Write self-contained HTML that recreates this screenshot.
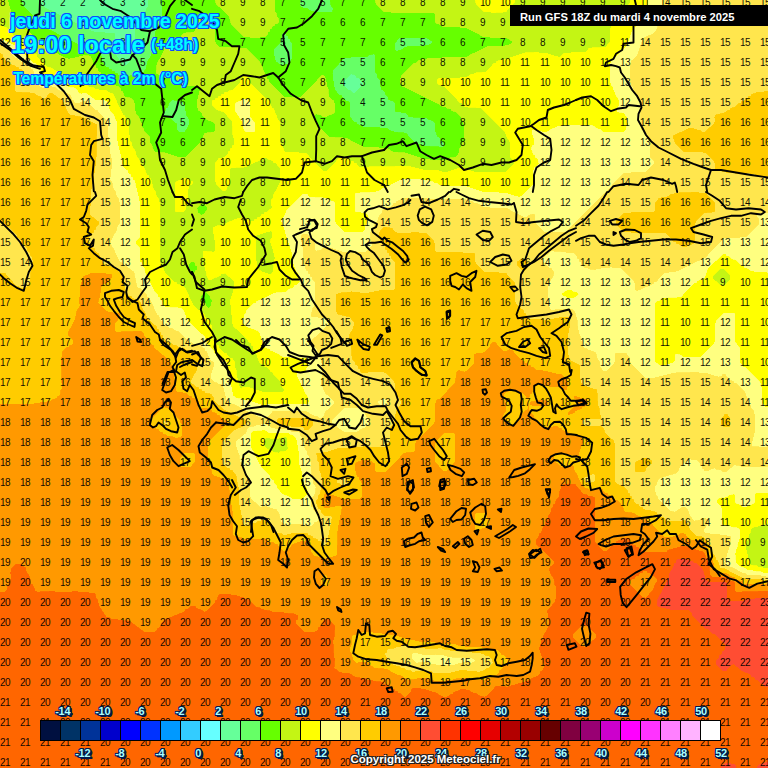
<!DOCTYPE html>
<html><head><meta charset="utf-8"><title>Meteociel GFS</title>
<style>
html,body{margin:0;padding:0;background:#ff9900;}
body{width:768px;height:768px;position:relative;overflow:hidden;font-family:"Liberation Sans",sans-serif;}
svg{position:absolute;left:0;top:0;}
.r{position:absolute;left:0px;letter-spacing:-0.5px;width:800px;height:12px;line-height:12px;font-size:10px;color:rgba(0,0,0,0.95);white-space:nowrap;}
.r i{display:inline-block;width:20px;text-align:left;font-style:normal;}
#coast path{fill:none;stroke:#000;stroke-width:1.9;stroke-linejoin:round;stroke-linecap:round;}
.t{position:absolute;font-weight:bold;color:#00ffff;white-space:nowrap;
 text-shadow:-1px -1px 0 #0a50ff,1px -1px 0 #0a50ff,-1px 1px 0 #0a50ff,1px 1px 0 #0a50ff,0 -1px 0 #0a50ff,0 1px 0 #0a50ff,-1px 0 0 #0a50ff,1px 0 0 #0a50ff;}
.lg{position:absolute;font-weight:bold;font-size:11px;line-height:12px;color:#aaffff;white-space:nowrap;letter-spacing:-0.3px;
 text-shadow:-1px -1px 0 #00184a,1px -1px 0 #00184a,-1px 1px 0 #00184a,1px 1px 0 #00184a,0 -1px 0 #00184a,0 1px 0 #00184a,-1px 0 0 #00184a,1px 0 0 #00184a,2px 2px 0 #00184a,1px 2px 0 #00184a,2px 1px 0 #00184a;}
#run{position:absolute;left:510px;top:5px;width:258px;height:21px;background:#000;color:#fff;font-weight:bold;font-size:11.2px;line-height:24px;}
#run span{position:absolute;left:10px;top:0;white-space:nowrap;}
#cp{position:absolute;left:350.5px;top:752.5px;font-weight:bold;font-size:11.5px;color:#fff;white-space:nowrap;
 text-shadow:-1px -1px 0 #222,1px -1px 0 #222,-1px 1px 0 #222,1px 1px 0 #222,0 1px 0 #222,1px 0 0 #222;}
</style></head><body>
<svg id="field" width="768" height="768" viewBox="0 0 768 768" shape-rendering="crispEdges">
<rect width="768" height="768" fill="#66ff99"/>
<path fill="#66ff66" stroke="#66ff66" stroke-width="0.8" fill-rule="evenodd" d="M0.2,0.2 0.2,767.8 767.8,767.8 767.8,0.2 148.2,0.2 148.2,6.8 147.2,7.2 145.2,12.8 136.2,21.2 136.2,22.8 135.2,23.2 135.2,41.8 130.2,48.2 130.2,61.8 126.8,65.2 123.2,65.2 118.8,60.8 118.8,59.2 115.8,54.8 115.8,52.2 114.8,51.8 114.8,34.2 113.8,33.2 105.2,33.2 104.8,32.2 94.2,32.2 93.8,31.2 91.2,31.2 90.8,30.2 89.2,30.2 88.8,29.2 87.2,29.2 86.8,28.2 85.2,28.2 84.8,27.2 83.2,27.2 82.8,26.2 81.2,26.2 80.8,25.2 79.2,25.2 78.8,24.2 77.2,24.2 76.8,23.2 75.2,23.2 74.8,22.2 73.2,22.2 72.8,21.2 71.2,21.2 70.8,20.2 69.2,20.2 68.8,19.2 67.2,19.2 66.8,18.2 65.2,18.2 64.8,17.2 63.2,17.2 62.8,16.2 61.2,16.2 60.8,15.2 59.2,15.2 58.8,14.2 57.2,14.2 56.8,13.2 45.2,8.2 40.8,3.8 39.8,0.2zM351.2,73.8 354.8,74.8 357.2,77.8 358.8,77.8 363.2,83.2 362.2,85.8 354.8,93.2 353.2,93.2 349.8,90.2 348.2,90.2 342.8,84.8 342.8,82.2z"/>
<path fill="#66ff00" stroke="#66ff00" stroke-width="0.8" fill-rule="evenodd" d="M0.2,0.2 0.2,767.8 767.8,767.8 767.8,0.2 330.2,0.2 331.2,5.8 333.2,8.2 332.8,12.2 314.2,12.2 313.8,11.2 311.2,11.2 306.8,8.2 303.2,8.2 302.8,7.2 301.2,7.2 299.8,5.8 299.8,0.2 162.2,0.2 162.2,17.8 161.2,18.2 161.2,20.8 158.2,25.2 158.2,27.8 155.2,32.2 155.2,43.8 154.2,44.2 154.2,46.8 153.2,47.2 151.2,55.8 148.2,60.2 146.2,68.8 143.8,72.2 141.2,72.2 140.8,73.2 135.2,73.2 134.8,74.2 129.2,76.2 127.8,78.2 123.2,78.2 122.8,77.2 121.2,77.2 119.8,75.2 118.2,75.2 116.8,73.2 115.2,73.2 113.8,71.2 112.2,71.2 110.8,69.2 109.2,69.2 107.8,67.2 106.2,67.2 101.8,61.8 100.8,54.2 99.8,53.8 99.8,51.2 97.8,48.2 91.2,47.2 90.8,46.2 87.2,46.2 86.8,45.2 79.2,45.2 78.8,44.2 77.2,44.2 76.8,43.2 75.2,43.2 74.8,42.2 73.2,42.2 72.8,41.2 71.2,41.2 70.8,40.2 69.2,40.2 68.8,39.2 67.2,39.2 66.8,38.2 65.2,38.2 64.8,37.2 63.2,37.2 62.8,36.2 61.2,36.2 60.8,35.2 59.2,35.2 58.8,34.2 57.2,34.2 56.8,33.2 45.2,28.2 22.8,5.8 22.8,4.2 21.8,3.8 21.8,0.2zM172.2,99.8 180.8,100.8 181.2,101.8 182.8,101.8 185.2,105.2 185.2,110.8 186.2,111.2 186.2,114.8 189.2,119.2 189.2,124.8 188.2,125.2 188.2,126.8 184.8,132.2 178.2,132.2 177.8,130.2 176.8,129.8 176.8,124.2 169.8,118.2 163.8,115.8 163.8,112.2 164.8,111.8 165.8,108.2 167.8,106.8 168.8,103.2zM332.8,70.2 344.2,57.8 350.8,57.8 351.2,56.8 366.8,56.8 369.2,54.8 373.8,53.8 375.2,55.2 375.2,71.8 377.2,74.2 377.2,76.8 380.2,80.2 381.2,88.8 385.2,92.2 385.2,93.8 388.2,97.2 388.2,98.8 391.2,100.8 392.8,100.8 395.2,103.2 395.2,110.8 396.2,111.8 400.8,111.8 401.2,112.8 405.8,112.8 409.2,116.8 426.8,117.8 427.2,118.8 432.8,120.8 435.2,123.2 435.2,131.8 436.2,132.2 437.2,135.8 440.2,138.2 440.2,139.8 444.2,143.2 445.2,145.8 443.2,146.2 442.8,147.2 424.2,146.2 423.8,145.2 421.2,145.2 420.8,144.2 418.2,144.2 417.8,143.2 414.2,142.2 405.8,133.2 394.2,132.2 393.8,131.2 391.2,131.2 386.8,128.2 380.2,128.2 379.8,127.2 363.2,127.2 362.8,126.2 357.2,124.2 355.8,122.2 354.2,122.2 349.8,116.8 349.8,103.2 347.8,101.2 346.2,101.2 340.8,95.2 339.2,95.2 334.8,89.8 334.8,87.2 333.8,86.8 333.8,81.2 332.8,80.8 332.8,74.2 331.8,73.8 332.8,72.8zM394.8,49.8 394.8,43.2 399.2,37.8 426.8,37.8 432.2,41.2 432.2,42.8 430.8,44.2 429.2,44.2 428.8,45.2 425.2,45.2 424.8,46.2 407.2,46.2 406.8,47.2 405.2,47.2 400.8,50.2 398.2,50.2 397.8,51.2 396.2,51.2zM285.8,32.8 286.2,34.8 288.2,36.2 288.2,37.8 290.2,39.2 290.2,40.8 292.2,43.2 292.2,58.8 291.2,59.2 290.8,62.2 289.2,62.2 287.8,64.2 285.2,64.2 282.2,66.2 275.8,61.8 275.8,60.2 274.8,59.8 274.8,56.2 273.8,55.8 273.8,49.2 279.8,42.8 281.8,34.2 283.2,32.8z"/>
<path fill="#c4f514" stroke="#c4f514" stroke-width="0.8" fill-rule="evenodd" d="M215.2,0.2 216.2,3.8 229.2,16.2 231.2,23.8 244.2,36.8 249.8,36.8 250.2,37.8 259.8,37.8 260.2,36.8 264.8,36.8 267.8,33.8 267.8,32.2 269.8,30.8 269.8,29.2 271.8,27.8 271.8,26.2 273.8,25.8 275.2,23.8 276.8,23.8 278.8,21.8 277.8,17.2 276.8,16.8 275.8,12.2 274.8,11.8 274.8,0.2zM0.2,0.2 0.2,767.8 767.8,767.8 767.8,0.2 375.2,0.2 376.2,3.8 384.2,11.8 390.8,11.8 391.2,12.8 433.8,12.8 435.2,14.2 435.2,21.8 437.2,23.8 438.8,23.8 443.2,26.8 459.8,26.8 460.2,27.8 466.8,27.8 467.2,28.8 468.8,28.8 469.2,29.8 470.8,29.8 471.2,30.8 472.8,30.8 473.2,31.8 474.8,31.8 475.2,32.8 476.8,32.8 483.2,36.8 489.8,36.8 490.2,37.8 506.8,37.8 512.2,41.2 512.2,42.8 510.8,44.2 509.2,44.2 508.8,45.2 505.2,45.2 504.8,46.2 487.2,46.2 486.8,47.2 485.2,47.2 484.8,48.2 483.2,48.2 482.8,49.2 481.2,49.2 480.8,50.2 479.2,50.2 478.8,51.2 477.2,51.2 476.8,52.2 475.2,52.2 474.8,53.2 473.2,53.2 466.8,57.2 442.2,57.2 441.8,58.2 427.2,58.2 426.8,59.2 422.2,59.2 421.8,60.2 419.2,60.2 415.8,63.2 414.2,63.2 401.2,76.2 401.2,77.8 400.2,78.2 400.2,82.8 403.2,86.8 404.8,86.8 405.2,87.8 406.8,87.8 407.2,88.8 408.8,88.8 409.2,89.8 410.8,89.8 411.2,90.8 412.8,90.8 413.2,91.8 414.8,91.8 415.2,92.8 416.8,92.8 417.2,93.8 418.8,93.8 419.2,94.8 420.8,94.8 421.2,95.8 422.8,95.8 423.2,96.8 424.8,96.8 425.2,97.8 426.8,97.8 427.2,98.8 428.8,98.8 429.2,99.8 430.8,99.8 431.2,100.8 432.8,100.8 433.2,101.8 434.8,101.8 435.2,102.8 436.8,102.8 443.2,106.8 445.8,106.8 446.2,107.8 450.8,108.8 452.2,110.8 455.8,111.8 461.2,117.2 461.2,119.8 464.2,124.2 464.2,140.8 461.2,144.2 461.2,146.8 459.2,149.2 459.2,152.8 458.2,153.2 458.2,154.8 455.8,157.2 449.2,158.2 448.8,159.2 445.2,159.2 444.8,160.2 430.2,160.2 429.8,159.2 423.2,159.2 422.8,158.2 420.2,158.2 419.8,157.2 417.2,157.2 416.8,156.2 414.2,156.2 413.8,155.2 411.2,155.2 410.8,154.2 408.2,154.2 407.8,153.2 393.2,152.2 386.8,148.2 379.2,148.2 378.8,147.2 363.2,147.2 362.8,146.2 361.2,146.2 360.8,145.2 359.2,145.2 358.8,144.2 357.2,144.2 356.8,143.2 355.2,143.2 354.8,142.2 353.2,142.2 346.8,138.2 329.2,137.2 315.8,123.8 315.8,122.2 314.8,121.8 314.8,115.2 316.2,113.8 320.8,114.8 323.2,116.8 326.8,116.8 327.2,115.8 332.8,113.8 334.8,111.8 334.8,103.2 333.8,102.8 333.8,101.2 328.8,96.8 327.8,87.2 326.8,86.8 326.8,82.2 325.8,81.8 325.8,78.2 324.8,77.8 324.8,76.2 322.2,75.2 300.8,97.2 292.2,97.2 291.8,98.2 290.8,97.2 284.2,97.2 268.8,81.8 268.8,80.2 266.8,78.8 265.8,74.2 264.8,73.8 259.8,62.2 245.8,48.2 240.2,48.2 239.8,47.2 219.2,47.2 215.8,43.8 215.8,42.2 214.8,41.8 214.8,23.2 206.8,14.2 203.2,14.2 196.2,21.2 196.2,22.8 195.2,23.2 195.2,30.8 193.8,32.2 184.2,33.2 170.8,47.2 168.2,47.2 167.8,48.2 165.2,48.2 164.2,49.2 164.2,50.8 163.2,51.2 163.2,52.8 162.2,53.2 162.2,54.8 161.2,55.2 161.2,56.8 157.2,63.2 156.2,72.8 159.2,74.8 160.8,74.8 161.2,75.8 162.8,75.8 163.2,76.8 170.8,77.8 174.2,81.8 175.8,81.8 182.2,85.8 197.8,85.8 198.2,86.8 199.8,86.8 200.2,90.8 199.2,91.2 199.2,94.8 198.2,95.2 198.2,98.8 197.2,99.2 197.2,107.8 198.2,108.2 198.2,109.8 202.2,113.2 202.2,114.8 207.2,119.8 212.8,121.8 215.2,124.2 215.2,130.8 213.8,132.2 205.2,133.2 203.2,136.2 203.2,137.8 202.2,138.2 202.2,139.8 200.2,141.2 200.2,142.8 185.8,157.2 177.2,157.2 176.8,156.2 174.2,156.2 173.8,155.2 171.2,155.2 170.8,154.2 168.2,154.2 167.8,153.2 155.2,152.2 153.8,150.8 150.8,143.2 149.8,142.8 149.8,137.2 143.8,130.8 143.8,129.2 141.8,126.8 141.8,123.2 140.8,122.8 138.8,117.2 135.8,113.8 135.8,111.2 134.8,110.8 134.8,103.2 133.8,102.8 133.8,101.2 130.8,98.2 125.2,97.2 123.8,95.8 122.8,92.2 120.8,90.8 120.8,89.2 117.8,86.2 116.2,86.2 115.8,85.2 110.2,83.2 108.8,81.2 107.2,81.2 100.8,74.8 100.8,73.2 97.8,70.8 97.8,69.2 95.8,67.8 95.8,66.2 92.8,63.8 91.8,59.2 89.8,56.2 83.2,55.2 82.8,56.2 79.2,56.2 78.8,57.2 75.2,57.2 74.8,58.2 70.2,58.2 69.8,59.2 68.2,59.2 67.8,58.2 65.2,58.2 64.8,57.2 63.2,57.2 62.8,56.2 61.2,56.2 60.8,55.2 59.2,55.2 58.8,54.2 47.2,49.2 45.8,47.2 44.2,47.2 43.8,45.2 41.8,43.2 40.2,43.2 12.8,15.8 12.8,14.2 10.8,11.8 10.8,9.2 9.8,8.8 9.8,6.2 8.8,5.8 8.8,2.2 7.8,1.8 7.8,0.2zM204.2,291.8 205.8,291.8 210.2,296.2 210.2,297.8 212.2,300.2 212.2,301.8 211.2,302.2 211.2,305.8 210.2,306.2 209.8,308.2 208.2,308.2 205.8,305.8 205.8,304.2 200.8,299.8 200.8,296.2zM190.2,261.8 193.8,261.8 195.2,263.2 195.2,264.8 197.2,266.2 197.2,269.8 195.2,271.2 194.8,273.2 192.2,273.2 188.8,267.8 188.8,264.2 189.8,263.8zM203.8,203.8 207.2,207.2 207.2,209.8 203.8,214.2 201.2,215.2 197.8,212.8 196.8,208.2 201.2,203.8z"/>
<path fill="#ffff00" stroke="#ffff00" stroke-width="0.8" fill-rule="evenodd" d="M186.8,178.2 183.2,178.2 182.8,179.2 177.2,181.2 175.2,183.2 175.2,210.8 176.2,211.8 183.8,211.8 185.8,208.8 185.8,206.2 187.8,203.8 187.8,189.2 188.8,188.8 188.8,186.2 190.2,184.8 191.8,184.8 192.8,182.2zM767.8,0.2 630.2,0.2 630.2,2.8 629.2,3.2 625.2,12.8 611.2,26.2 611.2,27.8 610.2,28.2 610.2,41.8 605.8,47.2 589.2,48.2 585.8,52.2 571.2,52.2 570.8,53.2 564.2,53.2 559.8,57.2 558.2,57.2 557.8,56.2 554.2,56.2 553.8,55.2 551.2,55.2 550.8,54.2 548.2,54.2 547.8,53.2 539.2,53.2 538.8,52.2 522.2,53.2 521.8,54.2 519.2,54.2 518.8,55.2 516.2,55.2 515.8,56.2 513.2,56.2 512.8,57.2 510.2,57.2 509.8,58.2 507.2,58.2 506.8,59.2 502.2,59.2 501.8,60.2 497.2,61.2 495.8,63.2 494.2,63.2 485.8,72.2 474.2,73.2 473.8,74.2 471.2,74.2 466.8,77.2 460.2,77.2 459.8,78.2 439.2,78.2 437.2,80.2 437.2,82.8 439.2,84.8 444.8,86.8 460.2,102.8 461.8,102.8 465.2,106.8 480.8,107.8 505.2,132.2 505.2,133.8 506.2,134.2 506.2,135.8 510.2,142.2 510.2,156.8 514.2,161.2 514.2,163.8 505.8,172.2 474.2,172.2 473.8,171.2 471.2,171.2 466.8,168.2 457.2,168.2 456.8,169.2 454.2,169.2 453.8,170.2 451.2,170.2 450.8,171.2 448.2,171.2 447.8,172.2 442.2,172.2 441.8,171.2 439.2,171.2 438.8,170.2 423.2,170.2 422.8,169.2 419.2,169.2 418.8,168.2 415.2,168.2 414.8,167.2 411.2,167.2 410.8,166.2 359.2,167.2 355.8,163.2 354.2,163.2 352.8,161.2 351.2,161.2 346.8,158.2 339.2,158.2 326.8,171.2 323.2,171.2 305.8,153.2 299.2,153.2 298.8,152.2 285.2,152.2 283.8,150.8 283.8,149.2 279.8,142.8 279.8,122.2 276.8,117.8 276.8,115.2 275.8,114.8 273.8,109.2 271.8,107.8 269.8,102.2 249.8,82.8 249.8,81.2 247.8,79.8 247.8,78.2 245.8,75.2 243.2,76.2 243.2,77.8 240.2,81.2 240.2,82.8 232.8,90.2 228.2,91.2 227.8,92.2 225.2,92.2 223.8,94.2 222.2,94.2 220.8,96.2 219.2,96.2 217.8,98.2 216.2,98.2 214.8,100.2 213.2,100.2 212.2,101.2 212.2,104.8 217.2,109.8 223.8,111.8 232.2,121.2 233.2,137.8 234.2,138.2 234.2,144.8 232.2,146.2 232.2,147.8 230.2,149.2 230.2,150.8 228.2,152.2 228.2,153.8 224.8,157.2 223.2,157.2 222.8,158.2 219.2,158.2 215.2,163.2 215.2,181.8 216.2,182.2 216.2,183.8 223.2,190.8 224.8,190.8 226.8,188.8 226.8,187.2 229.8,182.8 229.8,169.2 231.2,167.8 246.8,166.8 247.2,165.8 248.8,165.8 249.2,164.8 250.8,164.8 251.2,163.8 252.8,163.8 253.2,162.8 254.8,162.8 255.2,161.8 256.8,161.8 263.2,157.8 266.8,157.8 267.2,158.8 272.8,160.8 274.2,162.8 275.8,162.8 280.2,168.2 280.2,182.8 279.2,183.2 279.2,184.8 278.2,185.2 278.2,186.8 277.2,187.2 277.2,188.8 273.2,195.2 273.2,197.8 271.2,200.2 271.2,205.8 272.2,206.2 272.2,207.8 266.8,212.2 265.2,212.2 263.8,214.2 262.2,214.2 259.8,217.2 258.2,217.2 256.8,219.2 255.2,219.2 253.8,221.2 250.2,221.2 249.8,220.2 245.2,219.2 244.8,218.2 237.2,218.2 236.8,219.2 234.2,219.2 233.8,220.2 226.2,223.2 224.8,225.2 215.2,226.2 214.8,227.2 213.2,227.2 213.2,233.8 214.2,234.2 214.2,239.8 215.2,240.2 215.2,250.8 213.8,252.2 203.2,251.2 203.2,258.8 204.2,259.2 204.2,266.8 205.2,267.2 205.2,270.8 206.2,271.2 207.2,276.8 209.2,279.8 211.8,279.8 212.2,278.8 219.8,275.8 221.2,273.8 223.8,273.8 224.8,272.8 234.2,281.2 234.2,288.8 233.2,289.2 233.2,292.8 232.2,293.2 232.2,295.8 231.2,296.2 231.2,298.8 230.2,299.2 230.2,304.8 231.2,305.2 231.2,314.8 232.2,315.2 232.2,323.8 233.2,324.2 233.2,325.8 248.2,340.2 248.2,341.8 251.2,343.2 251.2,344.8 253.2,346.2 253.2,348.8 257.2,355.2 257.2,357.8 258.2,358.2 259.2,361.8 261.2,363.8 262.8,363.8 265.2,366.8 266.8,366.8 271.2,371.8 272.8,371.8 273.2,373.8 281.2,382.2 282.2,386.8 284.2,389.2 284.2,390.8 282.8,392.2 262.2,392.2 261.8,391.2 259.2,391.2 258.8,390.2 256.2,390.2 255.8,389.2 253.2,389.2 252.8,388.2 250.2,388.2 249.8,387.2 243.2,387.2 241.8,389.2 239.8,387.8 239.8,386.2 238.8,385.8 238.8,382.2 237.8,381.8 237.8,378.2 236.8,377.8 235.8,368.2 234.8,367.8 234.8,362.2 231.8,358.2 230.2,358.2 225.8,353.2 224.2,353.2 218.8,347.8 218.8,346.2 213.8,341.8 213.8,339.2 212.8,338.8 212.8,332.2 211.8,331.8 211.8,325.2 210.8,324.8 209.8,321.2 204.8,316.8 204.8,315.2 199.8,310.2 198.2,310.2 192.8,304.8 192.8,303.2 191.8,302.8 191.8,301.2 190.8,300.8 185.8,289.2 182.8,286.2 181.2,286.2 180.8,285.2 177.2,284.2 175.8,282.2 174.2,282.2 164.8,272.8 164.8,271.2 163.8,270.8 163.8,269.2 159.8,262.8 159.8,202.2 158.8,201.8 158.8,199.2 155.8,194.8 155.8,192.2 152.8,187.8 150.8,179.2 148.8,177.8 148.8,176.2 146.8,174.8 143.8,167.2 139.8,162.8 139.8,161.2 135.8,154.8 135.8,152.2 131.8,145.8 131.8,143.2 129.8,140.8 129.8,135.2 128.8,134.8 128.8,125.2 127.8,124.8 127.8,121.2 125.8,119.8 124.8,116.2 122.8,114.8 122.8,113.2 121.8,112.8 121.8,111.2 120.8,110.8 120.8,109.2 119.8,108.8 119.8,107.2 118.8,106.8 113.8,95.2 111.8,93.2 110.2,93.2 105.8,90.2 99.2,90.2 98.8,89.2 95.2,89.2 94.8,88.2 89.2,87.2 86.8,85.2 84.2,85.2 83.8,84.2 82.2,84.2 81.8,83.2 80.2,83.2 79.8,82.2 68.2,77.2 66.8,75.2 65.2,75.2 58.8,71.2 56.2,71.2 51.8,68.2 47.2,67.2 36.8,56.8 36.8,55.2 31.8,50.8 30.8,48.2 29.2,48.2 27.8,46.2 26.2,46.2 24.8,44.2 23.2,44.2 20.8,41.2 19.2,41.2 5.8,27.2 4.2,27.2 3.8,26.2 0.2,26.2 0.2,767.8 767.8,767.8 767.8,568.2 763.2,568.2 762.8,567.2 758.2,567.2 757.8,566.2 751.2,565.2 749.8,563.8 749.8,561.2 748.8,560.8 748.8,558.2 747.8,557.8 747.8,554.2 746.8,553.8 746.8,550.2 745.8,549.8 745.8,545.2 746.8,544.8 746.8,541.2 747.8,540.8 748.8,534.2 749.8,533.8 750.8,529.2 754.2,526.8 757.8,526.8 758.2,525.8 760.8,525.8 761.2,524.8 767.8,523.8zM288.2,448.8 285.8,451.2 279.2,452.2 278.8,453.2 273.2,452.2 272.8,451.2 267.2,449.2 264.8,446.8 264.8,445.2 263.8,444.8 263.8,440.2 264.8,439.8 265.2,437.8 269.8,437.8 270.2,438.8 278.8,438.8 279.2,437.8 285.8,436.8 287.2,438.2zM720.2,268.8 723.8,268.8 730.2,275.2 730.2,279.8 724.8,285.2 720.2,285.2 712.8,278.8 712.8,276.2zM270.2,230.8 272.2,231.2 272.2,237.8 271.2,238.2 270.2,242.8 271.2,243.2 271.2,245.8 272.2,246.2 272.2,248.8 273.2,249.2 273.2,252.8 274.2,253.2 274.2,256.8 275.2,257.2 275.2,258.8 274.2,259.2 273.2,271.8 272.2,272.2 271.8,274.2 268.2,274.2 267.8,273.2 265.2,273.2 264.8,272.2 262.2,272.2 261.8,271.2 258.2,270.2 257.8,268.2 256.8,267.8 256.8,261.2 255.8,260.8 255.8,236.2 257.2,234.8 259.8,234.8 260.2,233.8 262.8,233.8 263.2,232.8 265.8,232.8 266.2,231.8 269.8,231.8zM475.2,0.2 476.2,3.8 484.2,11.8 490.8,11.8 491.2,12.8 505.8,11.8 514.8,1.8 514.8,0.2z"/>
<path fill="#ffff80" stroke="#ffff80" stroke-width="0.8" fill-rule="evenodd" d="M243.2,99.2 242.8,100.2 237.2,102.2 235.2,104.2 235.2,110.8 242.2,121.2 244.2,129.8 246.2,131.8 253.8,131.8 254.8,130.8 254.8,123.2 249.8,116.8 249.8,103.2 246.8,99.2zM767.8,0.2 648.2,0.2 648.2,6.8 647.2,7.2 647.2,8.8 646.2,9.2 646.2,10.8 645.2,11.2 640.2,22.8 633.2,29.2 627.2,45.8 611.2,61.2 611.2,62.8 610.2,63.2 610.2,82.8 611.2,83.2 611.2,84.8 613.2,87.2 613.2,89.8 614.2,90.2 614.2,91.8 615.2,92.2 615.2,93.8 619.2,100.2 619.2,105.8 617.2,108.2 617.2,111.8 623.8,112.8 627.2,117.2 628.2,124.8 627.2,125.2 626.2,129.8 623.8,132.2 603.2,132.2 599.8,129.2 598.2,129.2 591.8,125.2 562.2,125.2 561.8,126.2 557.2,126.2 556.8,127.2 555.2,127.2 554.8,128.2 553.2,128.2 546.8,132.2 542.2,132.2 541.8,131.2 538.2,131.2 537.8,130.2 532.2,130.2 532.2,134.8 533.2,135.2 533.2,137.8 534.2,138.2 534.2,144.8 532.2,146.2 531.2,149.8 532.2,150.2 533.2,153.8 535.2,155.2 535.2,156.8 538.2,159.2 539.2,163.8 534.2,168.2 534.2,169.8 533.2,170.2 534.2,183.8 521.8,196.2 520.2,196.2 519.8,197.2 518.2,197.2 517.8,196.2 514.2,196.2 513.8,195.2 511.2,195.2 510.8,194.2 508.2,194.2 507.8,193.2 499.2,193.2 498.8,192.2 482.2,192.2 481.8,191.2 479.2,191.2 478.8,190.2 476.2,190.2 475.8,189.2 473.2,189.2 472.8,188.2 470.2,188.2 469.8,187.2 467.2,187.2 466.8,186.2 442.2,186.2 441.8,185.2 439.2,185.2 436.8,183.2 434.2,183.2 433.8,182.2 429.2,181.2 428.8,180.2 422.2,180.2 421.8,179.2 402.2,179.2 401.8,180.2 399.2,180.2 398.8,181.2 397.2,181.2 396.8,182.2 395.2,182.2 394.8,183.2 393.2,183.2 392.8,184.2 391.2,184.2 390.8,185.2 389.2,185.2 388.8,186.2 387.2,186.2 386.8,187.2 385.2,187.2 378.8,191.2 376.2,191.2 375.8,192.2 356.2,193.2 355.2,194.2 355.2,210.8 356.2,211.8 360.8,211.8 361.2,212.8 365.8,212.8 368.2,215.2 369.2,218.8 368.2,219.2 367.2,223.8 365.2,226.2 365.2,229.8 362.8,232.2 344.2,232.2 335.8,223.8 335.8,222.2 334.8,221.8 334.8,203.2 332.8,201.2 331.2,201.2 326.8,198.2 309.2,197.2 306.8,194.2 303.2,194.2 286.2,211.2 286.2,212.8 285.2,213.2 285.2,214.8 281.2,221.2 283.2,224.2 283.2,226.8 284.2,227.2 284.2,229.8 285.2,230.2 285.2,233.8 286.2,234.2 286.2,236.8 287.2,237.2 287.2,239.8 288.2,240.2 288.2,242.8 289.2,243.2 289.2,245.8 290.2,246.2 290.2,248.8 291.2,249.2 291.2,251.8 292.2,252.2 293.2,263.8 294.2,264.2 294.2,266.8 295.2,267.2 295.2,268.8 299.2,275.2 300.2,281.8 296.8,285.2 295.2,285.2 292.8,288.2 289.2,289.2 285.8,292.2 273.2,293.2 272.8,294.2 271.2,294.2 270.8,295.2 269.2,295.2 268.8,296.2 257.2,301.2 255.8,303.2 254.2,303.2 246.2,311.2 246.2,312.8 244.2,315.2 244.2,317.8 243.2,318.2 243.2,322.8 247.2,326.8 258.8,330.8 259.2,332.8 260.2,333.2 260.2,335.8 261.2,336.2 261.2,339.8 262.2,340.2 263.2,344.8 266.2,347.8 269.8,348.8 271.2,350.8 272.8,350.8 273.2,351.8 274.8,351.8 275.2,352.8 276.8,352.8 283.2,356.8 289.8,356.8 290.2,357.8 305.8,357.8 307.2,359.2 307.2,360.8 308.2,361.2 308.2,366.8 307.2,367.2 306.2,370.8 304.8,372.2 297.2,373.2 297.2,376.8 298.2,377.2 298.2,378.8 299.2,379.2 299.2,380.8 300.2,381.2 300.2,382.8 301.2,383.2 301.2,384.8 302.2,385.2 302.2,386.8 303.2,387.2 303.2,388.8 304.2,389.2 304.2,390.8 308.2,397.2 308.2,399.8 309.2,400.2 308.8,404.2 267.2,404.2 266.8,405.2 261.2,405.2 260.8,404.2 258.2,404.2 257.8,403.2 255.2,403.2 254.8,402.2 252.2,402.2 251.8,401.2 249.2,401.2 248.8,400.2 242.2,400.2 241.8,399.2 236.2,398.2 232.8,395.8 232.8,392.2 231.8,391.8 231.8,387.2 230.8,386.8 230.8,382.2 229.8,381.8 229.8,377.2 228.8,376.8 228.8,372.2 227.8,371.8 226.8,363.2 222.8,359.2 221.2,359.2 215.8,355.8 215.8,354.2 213.8,352.8 213.8,351.2 206.8,343.8 204.8,337.2 187.8,320.8 187.8,319.2 185.8,317.8 185.8,315.2 184.8,314.8 183.8,311.2 180.8,308.2 165.2,307.2 162.8,304.8 161.8,301.2 159.8,299.8 159.8,298.2 157.8,296.8 157.8,295.2 153.8,290.8 153.8,289.2 152.8,288.8 152.8,287.2 151.8,286.8 151.8,285.2 150.8,284.8 150.8,283.2 149.8,282.8 149.8,281.2 148.8,280.8 148.8,279.2 144.8,272.8 143.8,267.2 142.8,266.8 141.8,263.2 139.8,261.8 139.8,248.2 135.8,243.8 135.8,241.2 139.8,236.8 139.8,201.2 138.8,200.8 138.8,196.2 137.8,195.8 137.8,192.2 136.8,191.8 136.8,188.2 135.8,187.8 134.8,181.2 132.8,179.8 132.8,178.2 130.8,176.8 130.8,175.2 127.8,172.8 127.8,171.2 122.8,166.8 122.8,164.2 121.8,163.8 121.8,158.2 120.8,157.8 120.8,154.2 119.8,153.8 119.8,150.2 118.8,149.8 118.8,146.2 117.8,145.8 117.8,141.2 116.8,140.8 116.8,121.2 115.8,120.8 113.8,115.2 109.8,110.8 109.8,109.2 108.8,108.8 108.8,105.2 107.8,104.8 106.8,101.2 105.2,101.2 104.8,100.2 95.2,100.2 85.8,93.2 82.2,93.2 81.8,94.2 78.2,93.2 77.8,91.2 74.8,88.2 68.2,87.2 67.8,86.2 62.2,85.2 59.8,83.2 56.2,83.2 55.8,82.2 52.2,82.2 51.8,81.2 46.2,80.2 41.8,74.8 41.8,73.2 40.8,72.8 39.8,69.2 37.8,67.8 37.8,66.2 34.8,63.2 33.2,63.2 27.8,57.8 27.8,56.2 26.2,56.2 23.8,53.2 22.2,53.2 20.8,51.2 19.2,51.2 14.8,45.2 13.2,45.2 12.8,44.2 11.2,44.2 10.8,43.2 9.2,43.2 8.8,42.2 7.2,42.2 6.8,41.2 5.2,41.2 4.8,40.2 3.2,40.2 0.2,38.2 0.2,767.8 767.8,767.8 767.8,573.2 763.2,573.2 762.8,572.2 753.2,571.2 752.8,570.2 747.2,570.2 746.8,569.2 739.2,566.2 735.8,562.8 734.8,553.2 735.8,552.8 735.8,549.2 736.8,548.8 737.8,542.2 738.8,541.8 738.8,539.2 739.8,538.8 739.8,530.2 737.8,528.2 731.2,527.2 730.8,526.2 727.2,526.2 726.8,525.2 723.2,525.2 721.8,523.8 721.8,508.2 720.8,507.8 720.8,506.2 716.8,502.8 716.8,500.2 719.2,497.8 726.8,496.8 729.2,494.8 733.8,493.8 735.2,495.2 735.2,501.8 737.2,503.8 738.8,503.8 743.2,506.8 746.8,506.8 747.2,505.8 752.8,503.8 754.8,501.8 754.8,494.2 756.2,492.8 767.8,492.8 767.8,407.2 765.2,407.2 761.8,402.8 761.8,387.2 760.8,386.8 759.8,382.2 744.8,367.2 743.2,367.2 739.8,362.8 739.8,348.2 734.8,341.8 734.8,314.2 733.8,313.2 724.2,313.2 716.2,321.2 716.2,322.8 715.2,323.2 715.2,341.8 714.2,342.2 714.2,343.8 700.8,357.2 683.2,357.2 680.8,355.2 676.2,354.2 675.2,355.2 675.2,360.8 672.8,363.2 670.2,363.2 669.8,364.2 667.2,364.2 666.8,365.2 659.2,365.2 654.8,361.8 654.8,303.2 657.2,300.8 658.8,300.8 663.2,297.8 680.8,296.8 694.2,282.8 695.8,282.8 697.2,280.8 702.8,278.8 704.8,276.8 707.8,268.2 723.2,253.8 725.8,253.8 727.2,255.8 728.8,255.8 732.2,258.8 735.8,259.8 742.2,265.8 743.8,265.8 745.2,267.8 746.8,267.8 751.2,270.8 753.8,270.8 754.2,271.8 766.8,271.8 767.8,272.8zM253.2,430.8 264.8,429.8 269.2,432.8 288.8,432.8 289.2,433.8 292.8,434.8 296.2,438.2 296.2,439.8 297.2,440.2 297.2,444.8 298.2,445.2 298.2,450.8 299.2,451.2 299.2,464.8 300.2,465.2 300.2,467.8 301.2,468.2 301.2,470.8 302.2,471.2 303.2,481.8 304.2,482.2 304.2,483.8 307.2,488.2 307.2,490.8 308.2,491.2 307.2,494.8 302.8,499.2 292.2,499.2 291.8,498.2 282.2,494.2 276.8,487.8 276.8,486.2 273.8,482.8 273.8,481.2 269.8,477.8 269.8,476.2 260.8,466.8 260.8,465.2 258.8,463.8 258.8,462.2 257.8,461.8 257.8,460.2 256.8,459.8 256.8,458.2 255.8,457.8 255.8,456.2 254.8,455.8 254.8,454.2 250.8,447.8 250.8,433.2zM561.8,293.2 567.2,289.8 571.8,289.8 572.2,290.8 576.8,291.8 579.2,294.8 573.8,298.2 567.2,298.2 566.8,297.2 563.2,296.2 561.8,294.8z"/>
<path fill="#ffe64d" stroke="#ffe64d" stroke-width="0.8" fill-rule="evenodd" d="M767.8,0.2 662.2,0.2 662.2,17.8 661.2,18.2 661.2,20.8 660.2,21.2 656.2,30.8 652.8,34.2 645.2,37.2 643.2,39.2 637.2,55.8 631.2,61.2 631.2,62.8 630.2,63.2 630.2,82.8 631.2,83.2 631.2,84.8 633.2,87.2 633.2,89.8 634.2,90.2 634.2,91.8 635.2,92.2 635.2,93.8 636.2,94.2 636.2,95.8 640.2,102.2 641.2,128.8 645.2,132.2 645.2,133.8 646.2,134.2 646.2,135.8 650.2,142.2 650.2,156.8 654.2,161.2 654.2,163.8 645.8,172.2 631.2,172.2 630.8,173.2 624.2,173.2 565.8,232.2 544.2,232.2 535.8,223.8 535.8,222.2 534.8,221.8 534.8,215.2 533.8,214.2 529.2,215.2 526.8,217.2 523.2,217.2 522.8,216.2 521.2,216.2 520.8,215.2 519.2,215.2 518.8,214.2 517.2,214.2 516.8,213.2 515.2,213.2 514.8,212.2 513.2,212.2 506.8,208.2 490.2,208.2 489.8,207.2 483.2,207.2 476.8,203.2 474.2,203.2 471.8,201.2 469.2,201.2 468.8,200.2 466.2,200.2 465.8,199.2 427.2,199.2 426.8,198.2 403.2,198.2 402.8,199.2 397.2,201.2 395.8,203.2 394.2,203.2 390.8,207.2 386.2,207.2 382.2,211.2 382.2,212.8 379.2,216.2 377.2,221.8 375.2,223.2 374.2,226.8 371.2,230.2 370.2,239.8 372.2,242.2 372.2,245.8 365.8,252.2 342.2,252.2 341.8,251.2 339.2,251.2 338.8,250.2 336.2,250.2 335.8,249.2 333.2,249.2 332.8,248.2 323.2,248.2 320.8,250.2 316.2,251.2 314.8,249.8 314.8,243.2 313.8,242.8 313.8,241.2 306.8,234.2 303.2,234.2 301.2,236.2 301.2,241.8 302.2,242.2 302.2,246.8 303.2,247.2 303.2,263.8 304.2,264.2 306.2,269.8 308.2,271.2 308.2,272.8 310.2,274.2 310.2,275.8 312.2,277.2 312.2,278.8 315.2,282.2 315.2,303.8 314.2,304.2 314.2,306.8 313.2,307.2 311.2,315.8 312.2,316.8 317.8,316.8 318.2,317.8 324.8,317.8 328.2,321.2 328.2,324.8 311.2,341.2 311.2,343.8 317.2,349.2 317.2,350.8 319.2,353.2 319.2,355.8 320.2,356.2 320.2,358.8 321.2,359.2 321.2,362.8 322.2,363.2 322.2,377.8 321.2,378.2 321.2,384.8 322.2,385.2 325.2,392.8 334.2,401.2 334.2,403.8 325.2,412.2 324.2,415.8 321.8,418.2 319.2,418.2 316.8,416.2 314.2,416.2 313.8,415.2 312.2,415.2 305.8,411.2 273.2,411.2 267.8,417.2 266.2,417.2 265.8,418.2 261.2,418.2 260.8,417.2 258.2,417.2 257.8,416.2 256.2,416.2 255.8,415.2 254.2,415.2 253.8,414.2 252.2,414.2 251.8,413.2 250.2,413.2 249.8,412.2 248.2,412.2 247.8,411.2 246.2,411.2 245.8,410.2 244.2,410.2 243.8,409.2 242.2,409.2 241.8,408.2 240.2,408.2 239.8,407.2 228.2,402.2 225.8,399.8 225.8,396.2 224.8,395.8 224.8,392.2 223.8,391.8 223.8,388.2 222.8,387.8 222.8,386.2 220.8,384.2 218.2,384.2 217.8,383.2 214.2,382.2 210.8,378.8 210.8,373.2 211.8,372.8 211.8,370.2 212.8,369.8 212.8,367.2 213.8,366.8 213.8,362.2 211.2,361.2 208.8,358.8 208.8,356.2 207.8,355.8 206.8,352.2 204.8,350.8 204.8,349.2 198.8,345.2 196.2,345.2 195.8,344.2 193.2,344.2 192.8,343.2 189.2,342.2 177.8,331.2 176.2,331.2 171.8,328.2 169.2,328.2 168.8,327.2 165.2,326.2 162.8,323.8 162.8,322.2 159.8,319.8 158.8,316.2 156.8,314.8 156.8,313.2 155.8,312.8 150.8,301.2 148.8,299.8 148.8,298.2 146.8,296.8 146.8,295.2 139.8,288.2 138.2,288.2 136.8,286.8 133.8,272.2 118.8,260.8 118.8,259.2 117.8,258.8 117.8,257.2 116.8,256.8 116.8,255.2 115.8,254.8 115.8,253.2 114.8,252.8 114.8,251.2 110.8,244.8 110.8,240.2 111.8,239.8 111.8,238.2 112.8,237.8 112.8,236.2 116.8,229.8 116.8,227.2 119.8,222.8 119.8,202.2 118.8,201.8 118.8,199.2 115.8,194.8 115.8,192.2 112.8,187.8 111.8,182.2 109.8,179.8 109.8,177.2 110.8,176.8 110.8,169.2 111.8,168.8 111.8,158.2 110.8,157.8 110.8,154.2 109.8,153.8 109.8,147.2 108.8,146.8 108.8,137.2 107.8,136.8 107.8,125.2 106.8,124.8 106.8,121.2 96.8,110.2 95.2,110.2 88.8,103.2 87.2,103.2 85.8,101.2 83.2,101.2 82.8,102.2 80.2,102.2 79.8,103.2 74.2,103.2 73.8,101.2 71.8,99.8 70.8,96.2 68.8,94.2 64.2,93.2 63.8,92.2 58.2,90.2 54.8,87.2 52.2,87.2 51.8,86.2 48.2,86.2 45.8,88.2 42.2,88.2 41.8,87.2 40.2,87.2 35.8,82.8 35.8,76.2 34.8,75.8 32.8,70.2 30.8,68.8 30.8,67.2 29.2,67.2 24.8,63.2 21.2,62.2 19.8,60.2 18.2,60.2 16.8,58.2 15.2,58.2 9.8,52.8 9.8,51.2 7.8,48.2 0.2,45.2 0.2,767.8 767.8,767.8 767.8,577.2 766.2,577.2 765.8,576.2 761.2,576.2 760.8,575.2 747.2,575.2 744.8,573.2 742.2,573.2 741.8,572.2 740.2,572.2 739.8,571.2 738.2,571.2 737.8,570.2 726.2,565.2 723.8,561.2 724.8,560.8 724.8,558.2 726.8,555.8 726.8,553.2 727.8,552.8 727.8,550.2 728.8,549.8 728.8,547.2 729.8,546.8 730.8,537.2 729.8,536.2 727.2,536.2 726.8,535.2 720.2,535.2 719.8,534.2 710.2,534.2 709.8,533.2 705.2,533.2 703.8,531.8 703.8,529.2 707.8,523.8 707.8,519.2 706.2,519.2 705.8,518.2 702.2,518.2 699.8,520.2 694.2,521.2 689.8,515.8 687.8,510.2 684.8,507.2 682.2,507.2 674.8,512.2 670.2,511.2 657.8,498.8 657.8,497.2 655.8,494.8 655.8,492.2 654.8,491.8 654.8,486.2 655.8,485.8 657.8,480.2 660.2,477.8 676.8,472.8 678.8,469.8 678.8,468.2 679.8,467.8 679.8,466.2 689.2,458.8 690.8,458.8 691.2,459.8 696.8,459.8 700.2,463.2 700.2,464.8 702.2,466.2 702.2,467.8 704.2,469.2 704.2,470.8 708.8,470.8 709.2,469.8 714.8,467.8 715.2,468.8 720.8,469.8 723.2,471.8 725.8,471.8 734.2,464.8 740.8,465.8 741.2,466.8 767.8,466.8 767.8,446.2 766.8,447.2 751.8,446.8 751.8,441.2 752.8,440.8 752.8,437.2 753.8,436.8 753.8,433.2 754.8,432.8 754.8,414.2 753.8,413.8 753.8,411.2 750.8,407.8 750.8,406.2 747.8,401.8 747.8,398.2 746.8,397.8 744.8,392.2 735.8,383.2 734.2,383.2 732.8,381.2 729.2,380.2 724.8,374.2 723.2,374.2 721.8,376.2 718.2,377.2 717.8,376.2 714.2,376.2 713.8,375.2 711.2,375.2 710.8,374.2 708.2,374.2 707.8,373.2 699.2,373.2 698.8,372.2 671.2,373.2 670.8,374.2 667.2,374.2 666.8,375.2 663.2,375.2 662.8,376.2 659.2,376.2 658.8,377.2 655.2,377.2 654.8,378.2 650.2,378.2 649.8,379.2 648.2,379.2 647.8,378.2 645.2,378.2 630.8,363.8 630.8,362.2 629.8,361.8 629.8,358.2 625.8,353.2 616.2,353.2 615.2,354.2 615.2,361.8 614.2,362.2 614.2,363.8 606.8,371.2 603.2,371.2 599.8,366.8 599.8,362.2 596.8,357.8 595.8,353.2 592.8,351.2 591.2,351.2 590.8,350.2 588.2,350.2 587.8,349.2 584.2,348.2 581.8,344.8 581.8,341.2 580.8,340.8 579.8,334.2 578.8,333.8 578.8,330.2 577.8,329.8 576.8,317.2 575.8,316.8 574.8,312.2 571.8,309.2 551.2,310.2 549.8,308.8 549.8,307.2 548.8,306.8 548.8,303.2 547.8,302.8 547.8,284.2 549.8,282.8 549.8,281.2 552.8,276.8 553.8,272.2 550.8,268.2 549.2,268.2 542.8,261.8 542.8,258.2 551.2,250.8 565.8,251.8 566.2,252.8 573.8,252.8 577.2,256.2 577.2,257.8 579.2,259.2 579.2,260.8 581.2,262.2 581.2,263.8 585.2,267.8 587.8,267.8 588.2,268.8 595.8,269.8 596.2,268.8 600.8,268.8 601.2,267.8 609.8,267.8 610.2,266.8 611.8,266.8 612.2,267.8 620.8,267.8 634.2,281.2 634.2,282.8 635.2,283.2 635.2,289.8 637.8,290.8 638.2,289.8 640.8,289.8 641.2,288.8 652.8,283.8 654.2,281.8 655.8,281.8 664.2,272.8 668.8,272.8 669.2,271.8 675.8,271.8 676.2,270.8 678.8,270.8 679.2,269.8 680.8,269.8 681.2,268.8 682.8,268.8 683.2,267.8 684.8,267.8 685.2,266.8 686.8,266.8 687.2,265.8 688.8,265.8 689.2,264.8 690.8,264.8 691.2,263.8 692.8,263.8 693.2,262.8 704.8,257.8 724.2,237.8 739.8,237.8 740.2,236.8 745.8,236.8 758.8,223.8 758.8,219.2 756.8,216.8 756.8,213.2 767.8,212.8zM411.8,654.2 413.2,652.8 417.8,652.8 418.2,653.8 421.8,653.8 422.2,654.8 434.8,654.8 435.8,653.8 436.2,654.8 443.8,654.8 444.2,655.8 446.8,655.8 447.2,656.8 471.8,657.8 475.2,660.2 475.2,661.8 472.2,662.2 471.8,663.2 470.2,663.2 469.8,662.2 463.2,662.2 462.8,663.2 458.2,663.2 457.8,664.2 455.2,664.2 454.8,665.2 436.2,665.2 435.8,664.2 431.2,664.2 430.8,663.2 428.2,663.2 427.8,662.2 416.2,663.2 411.8,658.8zM249.2,426.8 255.8,425.8 256.2,424.8 260.8,424.8 261.2,423.8 265.8,423.8 266.2,424.8 267.8,424.8 272.2,427.8 274.8,427.8 275.2,428.8 286.8,428.8 287.2,429.8 289.8,429.8 292.2,431.8 298.8,431.8 300.2,433.2 300.2,434.8 303.2,439.2 303.2,441.8 304.2,442.2 305.2,448.8 307.2,451.2 307.2,453.8 309.2,456.2 309.2,458.8 310.2,459.2 310.2,461.8 311.2,462.2 311.2,465.8 310.2,466.8 311.2,467.2 312.2,478.8 313.2,479.2 313.2,482.8 316.2,487.2 315.2,493.8 311.2,500.2 311.2,505.8 313.2,507.2 313.2,508.8 317.2,513.2 317.2,514.8 319.2,517.2 319.2,519.8 316.8,522.2 315.2,522.2 311.8,526.2 303.2,525.2 302.8,524.2 289.2,524.2 288.8,525.2 285.2,525.2 280.8,521.8 278.8,513.2 275.8,509.2 273.2,509.2 272.8,508.2 270.2,508.2 269.8,507.2 267.2,507.2 266.8,506.2 262.2,506.2 261.8,507.2 260.2,507.2 250.8,498.8 250.8,497.2 249.8,496.8 249.8,482.2 246.8,477.8 246.8,475.2 244.8,472.8 243.8,467.2 242.8,466.8 241.8,463.2 239.8,461.8 238.8,453.2 237.8,452.8 237.8,450.2 236.8,449.8 236.8,447.2 235.8,446.8 235.8,441.2 245.8,432.8 246.8,429.2zM360.8,407.8 365.2,412.2 365.2,413.8 369.2,420.2 369.2,423.8 364.8,428.2 363.2,428.2 356.8,432.2 344.2,432.2 331.8,423.8 331.8,420.2 344.2,407.8 350.8,407.8 351.2,406.8 352.2,407.8zM376.8,402.2 381.2,398.8 385.8,398.8 387.2,400.2 387.2,404.8 385.8,406.2 381.2,406.2z"/>
<path fill="#ffcc00" stroke="#ffcc00" stroke-width="0.8" fill-rule="evenodd" d="M651.8,461.2 648.8,459.2 647.2,459.2 646.8,458.2 643.2,458.2 642.8,459.2 637.2,461.2 635.2,463.2 635.2,470.8 636.2,471.8 643.8,471.8 645.8,469.8 645.8,468.2 650.2,463.8 651.8,463.8zM277.2,420.2 277.2,422.8 280.2,424.8 285.8,424.8 286.2,425.8 290.8,425.8 291.2,426.8 302.8,426.8 304.2,428.2 304.2,429.8 307.8,429.8 312.8,424.8 312.8,422.2 306.8,418.2 279.2,418.2zM725.2,414.2 721.2,420.2 721.2,423.8 724.2,426.8 728.8,426.8 729.8,425.8 729.8,418.2 726.8,414.2zM521.2,259.2 517.2,262.2 517.2,264.8 522.2,269.8 524.8,270.8 526.8,267.8 526.8,266.2 527.8,265.8 527.8,262.2 525.8,259.2zM714.8,203.2 705.8,193.2 699.2,193.2 698.8,192.2 674.2,193.2 673.8,194.2 671.2,194.2 666.8,197.2 659.2,198.2 655.2,203.2 655.2,210.8 653.8,212.2 631.2,212.2 630.8,213.2 624.2,213.2 616.2,221.2 616.2,223.8 624.2,231.8 630.8,231.8 631.2,232.8 665.8,232.8 674.2,241.8 675.8,241.8 677.2,243.8 678.8,243.8 683.2,246.8 686.8,246.8 687.2,245.8 692.8,243.8 694.8,241.8 694.8,223.2 695.8,222.8 695.8,221.2 704.2,212.8 713.8,211.8 714.8,210.8zM767.8,91.2 764.2,91.2 763.8,92.2 756.2,92.2 755.8,93.2 752.2,94.2 750.8,96.2 749.2,96.2 747.8,98.2 746.2,98.2 743.8,101.2 742.2,101.2 740.8,103.2 739.2,103.2 734.8,107.2 731.2,108.2 729.8,110.2 728.2,110.2 723.8,113.2 715.2,115.2 715.2,116.8 714.2,117.2 715.2,118.2 715.2,121.8 714.2,122.2 714.2,123.8 704.8,132.2 702.2,132.2 699.8,130.2 697.2,130.2 696.8,129.2 694.2,129.2 693.8,128.2 688.2,128.2 687.8,129.2 686.2,129.2 685.8,130.2 674.2,135.2 673.2,136.2 673.2,138.8 674.2,139.2 675.2,142.8 684.2,151.8 702.8,151.8 703.2,152.8 705.8,152.8 714.2,161.2 714.2,162.8 715.2,163.2 715.2,168.8 716.2,169.8 718.8,169.8 719.2,170.8 721.8,170.8 722.2,171.8 725.8,171.8 726.2,172.8 734.8,172.8 735.2,173.8 749.8,172.8 750.2,173.8 754.8,173.8 755.2,174.8 759.8,174.8 760.2,175.8 766.8,175.8 767.8,176.8zM0.2,53.2 0.2,220.8 2.2,222.8 3.8,222.8 7.2,226.8 8.8,226.8 17.2,235.2 17.2,236.8 21.2,240.2 21.2,241.8 27.2,248.2 27.2,249.8 30.2,253.2 30.2,254.8 32.2,257.2 32.2,259.8 33.2,260.2 33.2,261.8 32.2,262.2 32.2,268.8 31.2,269.2 30.2,282.8 24.8,289.2 23.8,288.2 20.2,288.2 19.8,287.2 16.2,286.2 4.8,273.2 0.2,273.2 0.2,767.8 767.8,767.8 767.8,580.2 763.2,580.2 762.8,579.2 745.2,579.2 744.8,578.2 742.2,578.2 741.8,577.2 740.2,577.2 739.8,576.2 738.2,576.2 737.8,575.2 736.2,575.2 735.8,574.2 734.2,574.2 733.8,573.2 732.2,573.2 725.8,569.2 720.2,568.2 717.8,561.2 715.8,559.8 715.8,558.2 711.8,551.8 710.8,546.2 707.8,542.8 707.8,541.2 702.8,537.2 696.2,536.2 689.8,529.8 687.8,524.2 685.8,522.8 684.8,520.2 682.2,520.2 681.8,521.2 667.2,521.2 662.8,517.2 661.2,517.2 659.8,515.2 658.2,515.2 655.8,512.2 651.2,511.2 650.8,510.2 645.2,510.2 644.8,509.2 643.2,509.2 641.8,507.2 640.2,507.2 637.8,504.2 636.2,504.2 633.8,501.8 633.8,500.2 631.8,498.8 631.8,497.2 629.8,495.8 629.8,494.2 627.8,492.8 627.8,491.2 622.8,486.2 617.2,484.2 614.8,481.8 614.8,443.2 613.8,442.8 613.8,441.2 604.8,432.8 603.8,429.2 600.8,426.2 585.2,426.2 581.8,423.8 581.8,421.2 585.2,418.8 599.8,418.8 600.8,417.8 600.8,415.2 599.8,414.8 598.8,406.2 597.8,405.8 596.8,390.2 595.8,389.2 593.2,389.2 592.8,388.2 590.2,388.2 589.8,387.2 587.2,387.2 586.8,386.2 584.2,386.2 580.8,382.8 580.8,379.2 579.8,378.8 579.8,365.2 568.8,359.8 568.8,355.2 567.8,354.8 567.8,333.2 568.8,332.8 568.8,328.2 569.8,327.8 569.8,321.2 568.8,320.8 568.8,318.2 567.8,317.2 559.2,317.2 558.8,318.2 554.2,318.2 553.8,319.2 549.2,319.2 548.8,320.2 544.2,320.2 543.8,319.2 528.2,319.2 526.8,317.8 525.8,314.2 523.8,312.8 523.8,311.2 515.8,303.8 515.8,302.2 514.8,301.8 514.8,283.2 505.8,273.2 499.2,273.2 498.8,272.2 484.2,272.2 475.8,263.8 475.8,262.2 474.8,261.8 474.8,254.2 473.8,253.2 463.2,253.2 462.8,252.2 436.2,252.2 434.8,250.8 434.8,243.2 433.8,242.8 433.8,241.2 425.8,233.2 419.2,233.2 418.8,232.2 411.2,232.2 410.8,233.2 397.2,233.2 396.8,232.2 395.2,232.2 391.8,228.2 384.2,227.2 380.2,231.2 378.2,236.8 380.2,238.2 380.2,239.8 382.2,241.2 382.2,242.8 385.2,246.2 385.2,248.8 387.2,250.2 387.2,251.8 389.2,253.2 389.2,254.8 391.2,256.2 391.2,257.8 395.2,262.2 395.2,288.8 393.8,290.2 379.2,290.2 378.8,291.2 374.2,291.2 373.8,292.2 369.2,292.2 368.8,293.2 360.2,293.2 359.8,292.2 352.2,292.2 351.8,291.2 350.8,292.2 338.2,293.2 337.8,294.2 336.2,294.2 336.2,311.8 337.2,312.2 337.2,313.8 349.8,316.8 354.2,322.2 354.2,325.8 353.2,326.2 353.2,328.8 350.2,333.2 349.2,338.8 350.2,339.2 350.2,343.8 351.2,344.2 352.2,358.8 355.2,362.2 355.2,363.8 358.2,366.2 358.2,367.8 360.2,369.2 360.2,370.8 362.2,372.8 367.8,372.8 368.2,371.8 383.8,371.8 384.2,372.8 385.8,372.8 394.2,381.2 394.2,382.8 395.2,383.2 395.2,390.8 396.2,391.2 397.2,395.8 399.2,397.2 399.2,398.8 401.2,401.2 401.2,403.8 396.2,411.2 396.2,413.8 395.2,414.2 395.2,421.8 390.2,428.2 390.2,441.8 385.8,447.2 367.2,447.2 366.8,446.2 363.2,446.2 362.8,447.2 352.2,447.2 351.8,448.2 337.2,448.2 336.8,449.2 334.2,449.2 333.8,450.2 331.2,450.2 330.8,451.2 328.2,451.2 327.8,452.2 321.2,452.2 320.8,453.2 317.2,453.2 316.2,454.2 317.2,455.2 318.2,461.8 319.2,462.2 320.2,472.8 321.2,473.2 321.2,476.8 322.2,477.2 322.2,480.8 323.2,481.2 323.2,484.8 322.2,485.2 320.2,493.8 318.2,496.2 318.2,498.8 316.2,501.2 316.2,503.8 317.2,504.2 318.2,507.8 321.2,510.2 321.2,511.8 325.2,515.8 330.8,515.8 332.2,517.2 331.2,524.8 330.2,525.2 330.2,529.8 329.2,530.2 329.2,534.8 328.2,535.2 328.2,540.8 327.2,541.2 326.8,545.2 323.2,545.2 319.8,541.2 318.2,541.2 316.8,539.2 313.2,538.2 311.8,536.2 308.2,535.2 306.8,533.2 291.2,533.2 290.8,534.2 287.2,534.2 286.8,535.2 283.2,535.2 282.8,534.2 276.2,533.2 271.8,528.8 271.8,527.2 269.8,525.8 269.8,524.2 267.8,522.8 266.8,520.2 261.2,520.2 260.8,521.2 258.2,521.2 255.8,523.2 253.2,523.2 250.8,525.2 245.2,526.2 244.8,525.2 242.8,524.8 242.8,522.2 241.8,521.8 241.8,515.2 240.8,514.8 240.8,510.2 239.8,509.8 239.8,505.2 238.8,504.8 238.8,487.2 237.8,486.8 235.8,475.2 231.8,470.2 230.2,470.2 228.8,468.2 227.2,468.2 221.8,463.8 221.8,442.2 234.2,429.8 235.8,429.8 236.2,428.8 241.8,426.8 243.2,424.8 244.8,424.8 246.8,421.2 243.8,419.2 242.2,419.2 241.8,418.2 240.2,418.2 239.8,417.2 238.2,417.2 237.8,416.2 236.2,416.2 235.8,415.2 234.2,415.2 233.8,414.2 232.2,414.2 231.8,413.2 230.2,413.2 229.8,412.2 228.2,412.2 227.8,411.2 226.2,411.2 225.8,410.2 224.2,410.2 213.8,400.8 213.8,398.2 210.8,394.2 205.2,393.2 203.8,391.2 202.2,391.2 200.8,389.2 199.2,389.2 197.8,387.2 196.2,387.2 190.8,382.8 190.8,380.2 191.8,379.8 191.8,378.2 192.8,377.8 192.8,376.2 196.8,369.8 196.8,367.2 199.8,362.8 199.8,355.2 195.8,352.2 193.2,352.2 192.8,351.2 190.2,351.2 189.8,350.2 186.2,350.2 185.8,349.2 180.2,348.2 175.8,345.2 173.2,345.2 172.8,344.2 167.2,342.2 162.8,337.8 162.8,336.2 160.8,334.8 160.8,333.2 158.8,331.8 158.8,330.2 156.8,328.8 156.8,327.2 146.8,317.8 146.8,316.2 145.8,315.8 145.8,314.2 141.8,307.8 140.8,303.2 137.8,300.2 132.2,298.2 130.8,296.2 129.2,296.2 125.8,293.8 125.8,290.2 124.8,289.8 124.8,282.2 123.8,281.8 123.8,278.2 122.8,277.8 122.8,276.2 113.8,267.2 111.2,267.2 110.8,266.2 108.2,266.2 107.8,265.2 105.2,265.2 104.8,264.2 102.8,263.8 98.8,254.2 94.8,250.8 94.8,249.2 91.8,246.8 91.8,245.2 87.8,240.8 88.8,237.2 91.8,234.8 91.8,233.2 93.8,231.8 93.8,230.2 95.8,228.8 95.8,227.2 98.8,223.8 98.8,222.2 89.8,214.8 89.8,206.2 90.8,205.8 90.8,196.2 89.8,195.2 90.8,194.8 90.8,189.2 91.8,188.8 91.8,184.2 92.8,183.8 92.8,179.2 93.8,178.8 93.8,173.2 94.8,172.8 94.8,166.2 95.8,165.8 96.8,124.2 95.2,124.2 94.8,123.2 93.2,123.2 92.8,122.2 91.2,122.2 90.8,121.2 89.2,121.2 82.8,117.2 75.2,116.2 74.8,115.2 70.2,115.2 67.8,112.8 62.8,101.2 51.8,93.2 50.2,93.2 47.2,96.2 46.8,98.2 43.2,99.2 39.8,96.2 38.2,96.2 33.8,93.2 16.2,92.2 14.8,90.8 14.8,82.2 20.8,75.8 20.8,74.2 22.8,72.8 22.8,71.2 20.8,69.2 19.2,69.2 17.8,67.2 16.2,67.2 15.8,66.2 10.2,64.2 8.8,62.2 7.2,62.2 2.8,56.8 2.8,55.2zM383.8,654.2 386.8,651.8 386.8,650.2 388.2,648.8 395.8,647.8 396.2,646.8 400.8,646.8 401.2,645.8 413.8,645.8 414.2,646.8 419.8,646.8 420.2,647.8 424.8,647.8 425.2,648.8 441.8,647.8 442.2,648.8 449.8,649.8 450.2,650.8 465.8,650.8 466.2,651.8 471.8,651.8 472.2,652.8 480.8,652.8 481.2,653.8 483.8,653.8 484.2,654.8 488.8,655.8 492.2,659.2 493.2,662.8 488.8,668.2 487.2,668.2 482.8,671.2 480.2,671.2 479.8,672.2 477.2,672.2 476.8,671.2 467.2,671.2 466.8,670.2 459.2,670.2 458.8,671.2 455.2,671.2 454.8,672.2 451.2,672.2 450.8,673.2 433.2,673.2 430.8,671.2 415.2,671.2 414.8,672.2 412.2,672.2 411.8,671.2 406.2,670.2 403.8,668.2 401.2,668.2 398.8,666.2 396.2,666.2 395.8,665.2 393.2,665.2 392.8,664.2 389.2,663.2 387.8,661.8 385.8,656.2zM336.8,480.2 339.2,477.8 344.8,477.8 347.2,480.2 348.2,484.8 346.2,485.2 345.8,486.2 344.8,485.2 341.2,485.2 340.8,484.2 336.8,482.8zM595.2,475.2 595.2,480.8 593.8,482.2 591.2,482.2 590.8,483.2 584.8,482.8 583.8,478.2 585.2,476.8 586.8,476.8 589.2,474.8 591.8,474.8 592.2,473.8 593.8,473.8zM162.8,422.2 164.2,420.8 166.8,420.8 168.2,423.8 166.2,425.2z"/>
<path fill="#ff9900" stroke="#ff9900" stroke-width="0.8" fill-rule="evenodd" d="M530.2,402.2 530.2,404.8 531.8,404.8 532.2,405.8 545.8,405.8 547.8,403.8 547.8,401.2 546.2,401.2 545.8,400.2 536.2,400.2 535.8,401.2zM586.8,400.2 585.8,399.2 583.2,399.2 582.8,398.2 580.2,398.2 579.8,397.2 577.2,397.2 576.8,396.2 574.2,396.2 574.2,397.8 577.2,400.2 577.2,403.8 568.2,413.2 568.2,414.8 573.8,412.8 575.2,410.8 576.8,410.8 577.2,409.8 580.8,408.8 582.2,406.8 585.8,405.8 586.8,404.8zM0.2,404.2 0.2,767.8 767.8,767.8 767.8,584.2 743.2,584.2 740.8,581.2 735.2,579.2 733.8,577.2 732.2,577.2 725.8,573.2 717.2,573.2 716.8,572.2 715.2,572.2 714.8,568.2 713.8,567.8 713.8,563.2 712.8,562.8 712.8,561.2 708.8,554.8 708.8,552.2 707.8,551.8 707.8,549.2 706.8,548.8 706.8,545.2 704.8,542.2 703.2,542.2 702.8,541.2 691.2,540.2 690.8,539.2 689.2,539.2 685.8,535.8 685.8,534.2 684.2,534.2 683.8,533.2 679.2,534.2 678.8,535.2 676.2,535.2 675.8,536.2 673.2,536.2 672.8,537.2 664.2,537.2 649.8,522.2 648.2,522.2 646.8,520.2 641.2,518.2 639.8,516.2 638.2,516.2 633.8,513.2 625.2,512.2 623.8,510.8 622.8,507.2 620.8,505.8 620.8,504.2 616.8,500.2 615.2,500.2 609.8,495.2 608.2,495.2 606.8,493.2 605.2,493.2 601.8,489.2 593.2,489.2 592.8,490.2 589.2,490.2 588.8,489.2 584.2,488.2 583.8,486.2 580.8,483.8 580.8,482.2 579.8,481.8 579.8,480.2 578.8,479.8 578.8,478.2 577.8,477.8 577.8,476.2 573.8,469.8 573.8,467.2 571.8,465.2 569.2,465.2 568.8,466.2 566.2,466.2 565.8,467.2 561.2,467.2 553.8,460.8 553.8,456.2 556.2,453.8 559.8,453.8 560.2,452.8 565.8,452.8 566.2,453.8 577.8,455.8 578.8,454.8 578.8,452.2 579.8,451.8 579.8,449.2 580.8,448.8 580.8,446.2 581.8,445.8 581.8,443.2 582.8,442.8 581.8,439.2 578.8,436.2 570.2,434.2 569.8,433.2 562.2,430.2 560.8,428.2 559.2,428.2 556.8,426.2 553.2,426.2 552.8,427.2 543.2,427.2 541.8,425.2 540.2,425.2 535.8,420.8 535.8,419.2 533.8,417.8 533.8,416.2 529.8,411.8 529.8,410.2 528.8,409.8 528.8,403.2 528.2,409.8 526.2,410.2 521.2,415.2 519.2,420.8 513.8,426.2 509.2,425.2 507.8,423.2 506.2,423.2 502.8,419.8 502.8,415.2 505.8,410.8 505.8,403.2 504.8,402.8 504.8,400.2 503.8,399.8 503.8,394.2 506.2,391.8 507.8,391.8 510.2,389.8 515.8,389.8 516.2,390.8 518.8,390.8 519.2,391.8 522.8,392.8 527.2,397.8 528.8,397.8 529.8,394.2 531.8,392.8 532.8,387.2 536.2,383.8 541.8,383.8 542.2,384.8 548.8,385.8 549.2,386.8 560.8,386.8 564.2,389.8 566.8,389.8 566.8,387.2 567.8,386.8 567.8,382.2 566.8,381.8 566.8,380.2 560.8,374.2 556.2,374.2 555.8,373.2 552.2,373.2 551.8,372.2 548.2,372.2 547.8,371.2 543.2,371.2 542.8,370.2 536.2,370.2 532.8,367.2 531.2,367.2 529.8,365.2 528.2,365.2 526.8,363.2 525.2,363.2 523.8,361.2 522.2,361.2 511.8,350.2 510.2,350.2 509.8,349.2 506.8,351.2 503.2,351.2 494.8,342.2 493.2,342.2 490.2,345.2 490.2,346.8 484.8,352.2 483.2,352.2 482.8,353.2 476.2,353.2 475.8,354.2 474.2,354.2 474.2,363.8 466.8,371.2 465.2,371.2 464.8,372.2 460.2,371.2 459.8,370.2 457.2,371.2 455.2,382.8 439.8,399.2 438.2,399.2 436.2,401.2 436.2,402.8 435.2,403.2 435.2,421.8 434.2,422.2 434.2,423.8 416.2,441.2 416.2,442.8 415.2,443.2 415.2,450.8 413.8,452.2 404.2,453.2 385.8,472.2 376.2,472.2 374.8,470.8 374.8,464.2 368.8,460.2 361.2,460.2 360.8,461.2 357.2,462.2 355.2,464.2 355.2,470.8 356.2,471.2 357.2,475.8 359.2,477.2 359.2,478.8 362.2,483.2 362.2,496.8 359.8,499.2 343.2,499.2 342.8,498.2 340.2,498.2 339.8,497.2 337.2,497.2 336.8,496.2 334.2,496.2 333.8,495.2 331.2,495.2 330.8,494.2 328.2,494.2 327.8,493.2 326.2,493.2 324.2,495.2 324.2,496.8 322.2,499.2 322.2,504.8 325.2,507.8 329.8,507.8 330.2,506.8 334.8,506.8 335.2,505.8 340.8,505.8 342.2,507.2 341.2,514.8 340.2,515.2 340.2,519.8 339.2,520.2 339.2,524.8 338.2,525.2 337.2,554.8 335.8,556.2 333.2,556.2 332.8,557.2 330.2,557.2 329.8,558.2 327.2,558.2 326.8,559.2 323.2,559.2 322.8,558.2 314.2,556.2 310.8,551.8 310.8,549.2 309.8,548.8 308.8,544.2 305.8,541.2 300.2,541.2 299.8,542.2 297.2,542.2 296.8,543.2 293.2,544.2 286.8,551.2 283.2,551.2 276.8,544.2 275.2,544.2 272.8,542.2 270.2,542.2 263.8,538.2 262.8,539.2 243.2,539.2 242.8,538.2 234.2,536.2 232.8,534.8 231.8,505.2 230.8,504.8 230.8,495.2 229.8,494.8 227.8,483.2 224.8,479.2 220.2,478.2 219.8,477.2 217.2,477.2 216.8,476.2 214.2,476.2 211.8,473.8 210.8,469.2 209.8,468.8 209.8,466.2 208.8,465.8 208.8,462.2 207.8,461.8 207.8,444.2 208.8,443.8 209.8,440.2 227.8,422.2 225.8,420.2 224.2,420.2 222.8,418.2 221.2,418.2 218.8,415.2 217.2,415.2 215.8,413.2 212.2,412.2 210.8,410.2 209.2,410.2 206.8,408.2 203.2,408.2 200.8,410.2 198.2,410.2 197.8,406.2 198.8,405.8 198.8,402.2 196.8,400.2 195.2,400.2 193.8,398.2 192.2,398.2 190.8,396.2 189.2,396.2 185.8,393.2 183.2,393.2 182.8,392.2 177.2,392.2 175.8,390.8 175.8,387.2 174.8,386.8 174.8,380.2 173.8,379.8 173.8,371.2 172.8,370.8 172.8,368.2 171.8,367.8 171.8,365.2 170.8,364.8 169.8,361.2 153.8,347.8 153.8,346.2 149.8,342.8 149.8,341.2 143.8,335.8 143.8,334.2 140.8,331.2 116.2,332.2 114.8,330.8 114.8,323.2 117.8,319.8 117.8,318.2 119.8,316.8 119.8,314.2 118.8,313.2 113.2,313.2 112.8,312.2 108.2,312.2 107.8,311.2 106.2,311.2 97.8,302.8 98.8,298.2 99.8,297.8 99.8,293.2 100.8,292.8 100.8,287.2 103.2,283.8 106.8,282.8 108.2,280.8 110.8,279.8 110.8,278.2 111.8,277.8 111.8,275.2 110.8,274.2 106.2,274.2 105.8,273.2 90.2,273.2 89.8,274.2 84.2,276.2 82.2,279.2 82.2,281.8 81.2,282.2 81.2,284.8 80.2,285.2 80.2,296.8 79.2,297.2 79.2,303.8 80.2,304.2 80.2,305.8 77.2,310.2 75.2,319.8 74.2,320.2 74.2,321.8 73.2,322.2 73.2,323.8 72.2,324.2 72.2,325.8 68.2,332.2 68.2,334.8 73.2,340.2 73.2,343.8 71.8,345.2 70.2,345.2 68.8,347.2 67.2,347.2 62.2,352.2 62.2,356.8 61.2,357.2 62.2,388.8 61.2,389.2 60.2,395.8 58.2,396.2 56.8,398.2 51.2,400.2 50.8,401.2 47.2,401.2 46.8,402.2 40.2,402.2 39.8,403.2 34.2,403.2 33.8,404.2zM349.8,647.2 350.8,646.8 351.8,636.2 353.2,634.8 355.8,634.8 356.2,633.8 358.8,633.8 359.2,632.8 361.8,632.8 362.2,631.8 372.8,631.8 373.2,632.8 381.8,632.8 382.2,633.8 394.8,634.8 395.2,635.8 398.8,635.8 399.2,636.8 401.8,636.8 402.2,637.8 404.8,637.8 405.2,638.8 407.8,638.8 408.2,639.8 414.8,639.8 415.2,640.8 434.8,641.8 435.2,642.8 443.8,642.8 444.2,643.8 455.8,643.8 456.2,644.8 464.8,645.8 465.2,646.8 481.8,646.8 482.2,647.8 486.8,647.8 487.2,648.8 493.8,648.8 494.2,649.8 497.8,649.8 502.2,654.8 503.8,654.8 508.2,659.2 508.2,661.8 503.2,666.2 503.2,667.8 499.2,671.2 499.2,672.8 496.8,675.2 495.2,675.2 490.8,678.2 488.2,678.2 485.8,680.2 476.2,680.2 475.8,679.2 468.2,679.2 467.8,678.2 453.2,679.2 452.8,680.2 446.2,680.2 445.8,681.2 434.2,681.2 433.8,680.2 431.2,680.2 428.8,678.2 417.2,678.2 416.8,679.2 408.2,680.2 407.8,679.2 406.2,679.2 399.8,675.2 397.2,675.2 396.8,674.2 395.2,674.2 394.8,673.2 393.2,673.2 386.8,669.2 374.2,668.2 366.8,662.2 358.2,662.2 357.8,663.2 356.2,663.2 352.8,659.8 352.8,657.2 351.8,656.8 350.8,652.2 349.8,651.8zM644.2,580.8 646.2,582.2 645.8,584.2 644.2,584.2 642.8,582.8zM324.2,574.8 325.8,574.8 327.2,576.2 327.2,577.8 329.2,580.2 329.2,583.8 326.8,586.2 323.2,586.2 320.8,583.8 320.8,580.2zM484.8,512.8 486.2,514.2 488.2,519.8 489.2,520.2 489.2,523.8 484.8,528.2 476.2,531.2 474.8,529.8 474.8,514.2 476.2,512.8zM184.2,452.8 193.8,452.8 195.2,454.2 195.2,461.8 190.8,467.2 181.2,467.2 179.8,465.8 179.8,458.2zM453.8,432.8 455.2,434.2 455.2,461.8 446.8,471.2 443.2,471.2 434.8,461.8 434.8,443.2 435.8,442.8 435.8,441.2 444.2,432.8zM149.8,420.2 162.2,407.8 163.8,407.8 164.2,406.8 167.8,407.8 180.2,420.2 180.2,421.8 182.2,424.2 182.2,435.8 181.2,436.2 181.2,437.8 175.2,438.2 174.8,437.2 167.2,436.2 166.8,435.2 163.2,434.2 161.8,432.2 160.2,432.2 157.8,429.2 156.2,429.2 153.8,426.2 152.2,426.2 149.8,423.8z"/>
<path fill="#ff6600" stroke="#ff6600" stroke-width="0.8" fill-rule="evenodd" d="M767.8,591.2 736.2,592.2 734.8,590.8 734.8,583.2 732.8,581.2 731.2,581.2 724.8,577.2 712.2,577.2 709.8,574.8 708.8,563.2 706.8,560.8 706.8,558.2 705.8,557.8 704.8,554.2 701.8,551.2 699.2,551.2 698.8,550.2 696.2,550.2 695.8,549.2 693.2,549.2 692.8,548.2 690.2,548.2 689.8,547.2 687.2,547.2 686.8,546.2 680.2,546.2 679.8,547.2 677.2,547.2 676.8,548.2 673.2,548.2 672.8,549.2 668.2,550.2 666.8,552.2 644.2,552.2 640.8,549.2 639.2,549.2 637.8,547.2 636.2,547.2 634.8,545.2 633.2,545.2 629.8,541.8 629.8,539.2 628.8,538.2 623.2,538.2 622.8,539.2 617.2,541.2 615.8,543.2 614.2,543.2 606.8,551.2 603.2,551.2 594.8,541.8 594.8,498.2 591.8,496.2 588.2,496.2 587.8,495.2 583.2,494.2 574.8,484.2 563.2,484.2 561.2,486.2 561.2,488.8 560.2,489.2 559.2,496.8 556.2,500.2 555.2,503.8 553.2,505.2 553.2,506.8 551.2,509.2 551.2,511.8 548.2,516.2 548.2,518.8 545.2,523.2 545.2,525.8 543.2,527.2 541.2,532.8 539.2,534.2 539.2,535.8 536.2,540.2 536.2,543.8 554.2,561.2 554.2,563.8 550.2,567.2 549.2,570.8 550.2,571.2 550.2,572.8 554.2,579.2 555.2,585.8 556.2,586.2 556.2,598.8 555.2,599.2 555.2,601.8 547.2,611.2 547.2,612.8 548.2,613.2 548.2,617.8 549.2,618.2 549.2,625.8 548.2,626.2 548.2,627.8 547.2,628.2 547.2,629.8 543.2,636.2 543.2,638.8 541.2,641.2 541.2,643.8 540.2,644.2 540.2,646.8 539.2,647.2 539.2,649.8 540.2,650.2 540.2,652.8 541.2,653.2 541.2,655.8 542.2,656.2 542.2,658.8 543.2,659.2 543.2,662.8 544.2,663.2 544.2,667.8 543.2,668.2 543.2,669.8 540.2,672.2 540.2,673.8 537.8,676.2 536.2,676.2 535.8,677.2 534.2,677.2 527.8,681.2 525.2,681.2 524.8,682.2 522.2,682.2 521.8,683.2 518.2,683.2 517.8,684.2 515.2,684.2 514.8,685.2 511.2,685.2 510.8,686.2 508.2,686.2 507.8,687.2 496.2,686.2 486.8,696.2 485.2,696.2 484.8,697.2 480.2,696.2 475.8,693.2 473.2,693.2 472.8,692.2 471.2,692.2 468.8,690.2 466.2,690.2 465.8,689.2 460.2,689.2 459.8,690.2 454.2,692.2 452.8,694.2 451.2,694.2 446.8,697.2 443.2,697.2 442.8,696.2 441.2,696.2 434.8,692.2 432.2,692.2 431.8,691.2 429.2,691.2 428.8,690.2 426.2,690.2 425.8,689.2 421.2,689.2 420.8,688.2 413.2,688.2 411.2,690.2 411.2,691.8 405.8,697.2 404.2,697.2 399.8,693.2 398.2,693.2 396.8,691.2 395.2,691.2 393.8,689.2 392.2,689.2 390.8,687.2 389.2,687.2 387.8,685.2 384.2,684.2 382.8,682.2 373.2,681.2 372.8,680.2 367.2,680.2 366.8,679.2 355.2,677.2 348.8,673.2 342.2,673.2 341.8,672.2 339.2,672.2 335.8,669.2 333.8,668.8 334.8,658.2 333.8,657.8 332.8,640.2 333.8,639.8 334.8,626.2 328.8,619.2 326.2,619.2 323.2,622.2 323.2,623.8 318.2,628.2 318.2,629.8 316.8,631.2 315.2,631.2 314.8,632.2 304.2,632.2 295.8,623.8 295.8,620.2 297.8,618.8 297.8,615.2 296.2,615.2 295.8,614.2 284.2,613.2 283.8,612.2 272.2,612.2 271.8,611.2 264.2,610.2 263.8,609.2 261.2,609.2 260.8,608.2 256.2,607.2 247.8,599.2 245.2,599.2 242.8,597.2 240.2,597.2 239.8,596.2 237.2,596.2 236.8,595.2 231.2,595.2 230.8,594.2 220.2,594.2 218.2,596.2 217.2,599.8 215.2,601.2 215.2,602.8 206.8,611.2 204.2,612.2 203.8,611.2 196.2,608.2 194.8,606.2 191.2,606.2 187.8,609.2 186.2,609.2 183.8,612.2 166.2,619.2 161.2,624.2 161.2,625.8 157.2,629.2 156.8,631.2 155.2,631.2 154.8,632.2 144.2,632.2 129.8,621.2 118.2,620.2 117.8,619.2 111.2,619.2 110.8,618.2 106.2,617.2 98.8,605.8 98.8,603.2 97.8,602.8 97.8,600.2 95.8,597.8 94.8,593.2 89.2,593.2 88.8,592.2 78.2,592.2 77.8,591.2 72.2,591.2 71.8,592.2 55.2,592.2 54.8,591.2 37.2,592.2 36.8,591.2 35.2,591.2 32.8,585.2 30.8,583.8 29.8,577.2 25.8,570.8 25.8,568.2 20.8,564.2 16.2,564.2 11.2,569.2 11.2,571.8 10.2,572.2 10.2,573.8 11.2,574.2 11.2,578.8 10.2,579.2 10.2,581.8 9.2,582.2 9.2,584.8 8.2,585.2 7.2,589.8 4.8,592.2 0.2,592.2 0.2,767.8 767.8,767.8zM583.2,624.8 586.8,625.8 596.2,634.2 596.2,637.8 584.8,647.2 581.2,646.2 572.8,637.8 572.8,634.2 581.2,625.8 582.8,625.8zM643.2,570.8 646.8,570.8 648.2,572.8 649.8,572.8 652.2,575.8 653.8,575.8 657.2,579.2 657.2,581.8 656.2,582.2 653.2,589.8 645.8,598.2 642.2,597.2 629.8,584.8 629.8,581.2 632.2,578.8 633.8,578.8 636.2,575.8 637.8,575.8 640.2,572.8 641.8,572.8z"/>
<path fill="#ff4d33" stroke="#ff4d33" stroke-width="0.8" fill-rule="evenodd" d="M721.2,766.2 721.2,767.8 735.8,767.8 735.8,766.2 733.8,764.2 731.2,764.2 730.8,763.2 724.2,764.2zM767.8,762.2 758.2,765.2 757.2,767.8 767.8,767.8zM678.2,559.2 676.2,561.2 676.2,562.8 674.2,564.2 674.2,565.8 673.2,566.2 673.2,567.8 669.2,574.2 669.2,577.8 668.2,578.2 668.2,579.8 667.2,580.2 667.2,581.8 666.2,582.2 666.2,583.8 665.2,584.2 665.2,585.8 664.2,586.2 664.2,587.8 663.2,588.2 663.2,589.8 662.2,590.2 662.2,591.8 658.2,598.2 657.2,604.8 659.2,606.8 665.8,607.8 666.2,608.8 669.8,608.8 670.2,609.8 688.8,609.8 692.2,613.2 692.2,614.8 706.2,628.8 707.8,628.8 713.2,633.8 714.8,633.8 726.2,645.2 725.2,649.8 722.2,652.2 722.2,653.8 719.2,656.2 719.2,657.8 716.2,661.2 716.2,663.8 723.2,670.8 725.8,670.8 731.2,664.8 733.8,663.8 742.2,670.8 749.8,673.8 752.2,676.8 753.8,676.8 756.2,679.8 757.8,679.8 761.2,683.8 762.8,683.8 764.2,685.8 767.8,686.8 767.8,598.2 755.2,598.2 754.8,599.2 744.2,600.2 743.8,601.2 730.2,601.2 726.8,598.8 726.8,584.2 724.8,582.2 708.2,582.2 707.8,581.2 706.2,581.2 705.8,579.2 704.8,578.8 704.8,575.2 703.8,574.8 702.8,570.2 695.8,563.2 694.2,563.2 691.8,561.2 689.2,561.2 688.8,560.2 686.2,560.2 685.8,559.2z"/>
</svg>
<div id="nums">
<div class="r" style="top:-3px"><i>8</i><i>5</i><i>3</i><i>2</i><i>2</i><i>3</i><i>3</i><i>3</i><i>6</i><i>6</i><i>7</i><i>8</i><i>9</i><i>8</i><i>7</i><i>5</i><i>5</i><i>7</i><i>7</i><i>8</i><i>8</i><i>8</i><i>8</i><i>9</i><i>10</i><i>10</i><i>9</i><i>9</i><i>9</i><i>9</i><i>9</i><i>9</i><i>11</i><i>14</i><i>15</i><i>15</i><i>15</i><i>15</i><i>15</i></div>
<div class="r" style="top:17px"><i>9</i><i>7</i><i>5</i><i>4</i><i>3</i><i>3</i><i>3</i><i>4</i><i>6</i><i>7</i><i>8</i><i>7</i><i>9</i><i>9</i><i>7</i><i>7</i><i>6</i><i>6</i><i>6</i><i>7</i><i>7</i><i>7</i><i>8</i><i>8</i><i>9</i><i>9</i><i>9</i><i>9</i><i>9</i><i>9</i><i>9</i><i>10</i><i>12</i><i>14</i><i>15</i><i>15</i><i>15</i><i>15</i><i>15</i></div>
<div class="r" style="top:37px"><i>12</i><i>9</i><i>7</i><i>6</i><i>5</i><i>4</i><i>3</i><i>4</i><i>7</i><i>8</i><i>8</i><i>7</i><i>7</i><i>7</i><i>5</i><i>5</i><i>7</i><i>7</i><i>7</i><i>6</i><i>5</i><i>5</i><i>6</i><i>6</i><i>7</i><i>7</i><i>8</i><i>8</i><i>9</i><i>9</i><i>9</i><i>11</i><i>14</i><i>15</i><i>15</i><i>15</i><i>15</i><i>15</i><i>15</i></div>
<div class="r" style="top:57px"><i>16</i><i>13</i><i>9</i><i>8</i><i>9</i><i>5</i><i>3</i><i>5</i><i>9</i><i>9</i><i>9</i><i>9</i><i>9</i><i>7</i><i>5</i><i>6</i><i>7</i><i>5</i><i>5</i><i>6</i><i>7</i><i>8</i><i>8</i><i>8</i><i>9</i><i>10</i><i>11</i><i>11</i><i>10</i><i>10</i><i>11</i><i>13</i><i>15</i><i>15</i><i>15</i><i>15</i><i>15</i><i>15</i><i>15</i></div>
<div class="r" style="top:77px"><i>16</i><i>15</i><i>12</i><i>10</i><i>9</i><i>8</i><i>6</i><i>6</i><i>7</i><i>8</i><i>8</i><i>8</i><i>10</i><i>8</i><i>6</i><i>7</i><i>8</i><i>4</i><i>3</i><i>6</i><i>8</i><i>9</i><i>10</i><i>10</i><i>10</i><i>11</i><i>11</i><i>10</i><i>10</i><i>10</i><i>11</i><i>13</i><i>15</i><i>15</i><i>15</i><i>15</i><i>15</i><i>15</i><i>15</i></div>
<div class="r" style="top:97px"><i>16</i><i>16</i><i>16</i><i>15</i><i>14</i><i>12</i><i>8</i><i>7</i><i>6</i><i>6</i><i>9</i><i>11</i><i>12</i><i>10</i><i>8</i><i>8</i><i>9</i><i>6</i><i>4</i><i>5</i><i>6</i><i>7</i><i>8</i><i>10</i><i>10</i><i>11</i><i>10</i><i>10</i><i>10</i><i>10</i><i>10</i><i>12</i><i>14</i><i>15</i><i>15</i><i>15</i><i>15</i><i>15</i><i>16</i></div>
<div class="r" style="top:117px"><i>16</i><i>16</i><i>17</i><i>17</i><i>16</i><i>14</i><i>10</i><i>7</i><i>7</i><i>5</i><i>7</i><i>8</i><i>12</i><i>11</i><i>9</i><i>8</i><i>7</i><i>6</i><i>5</i><i>5</i><i>5</i><i>5</i><i>6</i><i>8</i><i>9</i><i>10</i><i>10</i><i>11</i><i>11</i><i>11</i><i>11</i><i>11</i><i>14</i><i>15</i><i>15</i><i>15</i><i>16</i><i>16</i><i>16</i></div>
<div class="r" style="top:137px"><i>16</i><i>16</i><i>17</i><i>17</i><i>17</i><i>15</i><i>11</i><i>8</i><i>9</i><i>6</i><i>8</i><i>8</i><i>11</i><i>11</i><i>9</i><i>9</i><i>8</i><i>8</i><i>7</i><i>7</i><i>6</i><i>5</i><i>6</i><i>8</i><i>9</i><i>9</i><i>11</i><i>12</i><i>12</i><i>12</i><i>12</i><i>12</i><i>13</i><i>15</i><i>16</i><i>16</i><i>16</i><i>16</i><i>16</i></div>
<div class="r" style="top:157px"><i>16</i><i>16</i><i>16</i><i>17</i><i>17</i><i>15</i><i>11</i><i>9</i><i>9</i><i>8</i><i>9</i><i>10</i><i>10</i><i>9</i><i>10</i><i>10</i><i>9</i><i>10</i><i>9</i><i>9</i><i>9</i><i>8</i><i>8</i><i>9</i><i>9</i><i>9</i><i>10</i><i>12</i><i>12</i><i>13</i><i>13</i><i>13</i><i>13</i><i>14</i><i>15</i><i>15</i><i>16</i><i>16</i><i>16</i></div>
<div class="r" style="top:177px"><i>16</i><i>16</i><i>16</i><i>17</i><i>17</i><i>15</i><i>13</i><i>10</i><i>9</i><i>10</i><i>9</i><i>10</i><i>8</i><i>8</i><i>10</i><i>11</i><i>10</i><i>11</i><i>11</i><i>11</i><i>12</i><i>12</i><i>11</i><i>11</i><i>10</i><i>10</i><i>11</i><i>12</i><i>12</i><i>13</i><i>13</i><i>14</i><i>14</i><i>14</i><i>15</i><i>15</i><i>15</i><i>15</i><i>15</i></div>
<div class="r" style="top:197px"><i>16</i><i>16</i><i>17</i><i>17</i><i>17</i><i>15</i><i>13</i><i>11</i><i>9</i><i>10</i><i>9</i><i>9</i><i>9</i><i>9</i><i>11</i><i>12</i><i>12</i><i>11</i><i>12</i><i>13</i><i>14</i><i>14</i><i>14</i><i>14</i><i>13</i><i>13</i><i>12</i><i>13</i><i>12</i><i>13</i><i>14</i><i>15</i><i>15</i><i>16</i><i>16</i><i>16</i><i>15</i><i>14</i><i>14</i></div>
<div class="r" style="top:217px"><i>16</i><i>16</i><i>17</i><i>17</i><i>17</i><i>15</i><i>13</i><i>11</i><i>9</i><i>9</i><i>9</i><i>9</i><i>10</i><i>10</i><i>12</i><i>13</i><i>12</i><i>11</i><i>11</i><i>14</i><i>15</i><i>15</i><i>15</i><i>15</i><i>15</i><i>15</i><i>14</i><i>13</i><i>13</i><i>14</i><i>15</i><i>16</i><i>16</i><i>16</i><i>16</i><i>15</i><i>15</i><i>15</i><i>13</i></div>
<div class="r" style="top:237px"><i>15</i><i>16</i><i>17</i><i>17</i><i>17</i><i>14</i><i>12</i><i>11</i><i>9</i><i>8</i><i>9</i><i>10</i><i>10</i><i>9</i><i>11</i><i>14</i><i>13</i><i>12</i><i>12</i><i>15</i><i>16</i><i>16</i><i>15</i><i>15</i><i>15</i><i>15</i><i>14</i><i>14</i><i>14</i><i>15</i><i>15</i><i>15</i><i>15</i><i>15</i><i>16</i><i>15</i><i>13</i><i>13</i><i>12</i></div>
<div class="r" style="top:257px"><i>15</i><i>14</i><i>17</i><i>17</i><i>17</i><i>15</i><i>13</i><i>11</i><i>9</i><i>8</i><i>8</i><i>10</i><i>10</i><i>9</i><i>10</i><i>14</i><i>15</i><i>15</i><i>15</i><i>15</i><i>16</i><i>16</i><i>16</i><i>16</i><i>15</i><i>15</i><i>16</i><i>14</i><i>13</i><i>14</i><i>14</i><i>14</i><i>15</i><i>14</i><i>14</i><i>13</i><i>11</i><i>12</i><i>12</i></div>
<div class="r" style="top:277px"><i>16</i><i>15</i><i>17</i><i>17</i><i>18</i><i>18</i><i>15</i><i>12</i><i>10</i><i>9</i><i>8</i><i>9</i><i>10</i><i>10</i><i>10</i><i>12</i><i>15</i><i>15</i><i>15</i><i>15</i><i>16</i><i>16</i><i>16</i><i>16</i><i>16</i><i>16</i><i>15</i><i>14</i><i>12</i><i>13</i><i>12</i><i>13</i><i>14</i><i>13</i><i>12</i><i>11</i><i>9</i><i>10</i><i>11</i></div>
<div class="r" style="top:297px"><i>17</i><i>17</i><i>17</i><i>17</i><i>17</i><i>17</i><i>16</i><i>14</i><i>11</i><i>11</i><i>9</i><i>8</i><i>11</i><i>12</i><i>13</i><i>12</i><i>15</i><i>16</i><i>15</i><i>16</i><i>16</i><i>16</i><i>16</i><i>16</i><i>16</i><i>16</i><i>15</i><i>14</i><i>12</i><i>12</i><i>12</i><i>13</i><i>12</i><i>11</i><i>11</i><i>11</i><i>11</i><i>11</i><i>10</i></div>
<div class="r" style="top:317px"><i>17</i><i>17</i><i>17</i><i>17</i><i>18</i><i>18</i><i>17</i><i>16</i><i>13</i><i>12</i><i>10</i><i>8</i><i>12</i><i>13</i><i>13</i><i>13</i><i>13</i><i>15</i><i>16</i><i>16</i><i>16</i><i>16</i><i>16</i><i>17</i><i>17</i><i>17</i><i>16</i><i>16</i><i>17</i><i>13</i><i>12</i><i>13</i><i>12</i><i>11</i><i>10</i><i>11</i><i>12</i><i>11</i><i>10</i></div>
<div class="r" style="top:337px"><i>17</i><i>17</i><i>17</i><i>17</i><i>18</i><i>18</i><i>18</i><i>18</i><i>16</i><i>14</i><i>12</i><i>9</i><i>9</i><i>12</i><i>13</i><i>13</i><i>15</i><i>15</i><i>16</i><i>16</i><i>16</i><i>16</i><i>17</i><i>17</i><i>17</i><i>17</i><i>17</i><i>17</i><i>16</i><i>13</i><i>13</i><i>13</i><i>12</i><i>11</i><i>10</i><i>11</i><i>12</i><i>11</i><i>11</i></div>
<div class="r" style="top:357px"><i>17</i><i>17</i><i>17</i><i>17</i><i>18</i><i>18</i><i>18</i><i>18</i><i>18</i><i>17</i><i>15</i><i>12</i><i>8</i><i>10</i><i>11</i><i>11</i><i>14</i><i>14</i><i>16</i><i>16</i><i>16</i><i>16</i><i>17</i><i>17</i><i>18</i><i>18</i><i>17</i><i>17</i><i>16</i><i>15</i><i>13</i><i>14</i><i>12</i><i>11</i><i>12</i><i>12</i><i>13</i><i>11</i><i>10</i></div>
<div class="r" style="top:377px"><i>17</i><i>17</i><i>17</i><i>17</i><i>18</i><i>18</i><i>18</i><i>18</i><i>18</i><i>16</i><i>14</i><i>13</i><i>9</i><i>8</i><i>9</i><i>12</i><i>14</i><i>15</i><i>14</i><i>15</i><i>16</i><i>17</i><i>17</i><i>18</i><i>19</i><i>19</i><i>18</i><i>18</i><i>18</i><i>15</i><i>14</i><i>15</i><i>14</i><i>15</i><i>15</i><i>15</i><i>14</i><i>13</i><i>11</i></div>
<div class="r" style="top:397px"><i>17</i><i>17</i><i>17</i><i>17</i><i>18</i><i>18</i><i>18</i><i>18</i><i>18</i><i>19</i><i>17</i><i>14</i><i>12</i><i>11</i><i>11</i><i>11</i><i>13</i><i>14</i><i>14</i><i>13</i><i>16</i><i>17</i><i>18</i><i>18</i><i>19</i><i>18</i><i>17</i><i>18</i><i>18</i><i>18</i><i>14</i><i>14</i><i>14</i><i>15</i><i>15</i><i>14</i><i>15</i><i>14</i><i>11</i></div>
<div class="r" style="top:417px"><i>18</i><i>18</i><i>18</i><i>18</i><i>18</i><i>18</i><i>18</i><i>18</i><i>15</i><i>18</i><i>19</i><i>18</i><i>16</i><i>14</i><i>17</i><i>17</i><i>14</i><i>12</i><i>13</i><i>15</i><i>16</i><i>17</i><i>18</i><i>18</i><i>18</i><i>18</i><i>18</i><i>17</i><i>16</i><i>15</i><i>15</i><i>15</i><i>15</i><i>14</i><i>15</i><i>14</i><i>16</i><i>14</i><i>13</i></div>
<div class="r" style="top:437px"><i>18</i><i>18</i><i>18</i><i>18</i><i>18</i><i>18</i><i>18</i><i>18</i><i>19</i><i>18</i><i>18</i><i>15</i><i>12</i><i>9</i><i>9</i><i>14</i><i>14</i><i>15</i><i>15</i><i>15</i><i>17</i><i>18</i><i>17</i><i>18</i><i>18</i><i>19</i><i>19</i><i>19</i><i>19</i><i>18</i><i>16</i><i>15</i><i>14</i><i>14</i><i>15</i><i>15</i><i>14</i><i>14</i><i>13</i></div>
<div class="r" style="top:457px"><i>18</i><i>18</i><i>18</i><i>18</i><i>18</i><i>18</i><i>19</i><i>19</i><i>19</i><i>17</i><i>18</i><i>15</i><i>13</i><i>12</i><i>10</i><i>12</i><i>17</i><i>17</i><i>18</i><i>17</i><i>18</i><i>18</i><i>17</i><i>18</i><i>18</i><i>18</i><i>19</i><i>19</i><i>17</i><i>18</i><i>16</i><i>15</i><i>16</i><i>15</i><i>14</i><i>14</i><i>14</i><i>14</i><i>14</i></div>
<div class="r" style="top:477px"><i>18</i><i>18</i><i>18</i><i>18</i><i>18</i><i>19</i><i>19</i><i>19</i><i>19</i><i>19</i><i>19</i><i>18</i><i>14</i><i>12</i><i>11</i><i>15</i><i>16</i><i>15</i><i>18</i><i>18</i><i>18</i><i>18</i><i>18</i><i>18</i><i>18</i><i>18</i><i>18</i><i>19</i><i>20</i><i>15</i><i>16</i><i>15</i><i>15</i><i>13</i><i>13</i><i>13</i><i>13</i><i>12</i><i>12</i></div>
<div class="r" style="top:497px"><i>19</i><i>18</i><i>18</i><i>19</i><i>19</i><i>19</i><i>19</i><i>19</i><i>19</i><i>19</i><i>19</i><i>19</i><i>14</i><i>13</i><i>12</i><i>11</i><i>19</i><i>18</i><i>18</i><i>18</i><i>18</i><i>18</i><i>18</i><i>18</i><i>18</i><i>18</i><i>19</i><i>19</i><i>19</i><i>20</i><i>19</i><i>17</i><i>14</i><i>14</i><i>13</i><i>12</i><i>11</i><i>12</i><i>11</i></div>
<div class="r" style="top:517px"><i>19</i><i>19</i><i>19</i><i>19</i><i>19</i><i>19</i><i>19</i><i>19</i><i>19</i><i>19</i><i>19</i><i>19</i><i>15</i><i>16</i><i>13</i><i>13</i><i>14</i><i>19</i><i>19</i><i>18</i><i>18</i><i>18</i><i>19</i><i>18</i><i>17</i><i>19</i><i>19</i><i>19</i><i>20</i><i>20</i><i>19</i><i>18</i><i>18</i><i>16</i><i>16</i><i>14</i><i>11</i><i>10</i><i>10</i></div>
<div class="r" style="top:537px"><i>19</i><i>19</i><i>19</i><i>19</i><i>19</i><i>19</i><i>19</i><i>19</i><i>19</i><i>19</i><i>19</i><i>19</i><i>18</i><i>18</i><i>17</i><i>18</i><i>15</i><i>19</i><i>19</i><i>19</i><i>18</i><i>18</i><i>19</i><i>18</i><i>19</i><i>19</i><i>19</i><i>20</i><i>20</i><i>20</i><i>19</i><i>20</i><i>18</i><i>18</i><i>19</i><i>18</i><i>15</i><i>10</i><i>9</i></div>
<div class="r" style="top:557px"><i>19</i><i>20</i><i>19</i><i>19</i><i>19</i><i>19</i><i>19</i><i>19</i><i>19</i><i>19</i><i>19</i><i>19</i><i>19</i><i>19</i><i>18</i><i>19</i><i>18</i><i>19</i><i>19</i><i>19</i><i>18</i><i>19</i><i>19</i><i>19</i><i>19</i><i>19</i><i>19</i><i>19</i><i>20</i><i>20</i><i>20</i><i>21</i><i>21</i><i>21</i><i>22</i><i>21</i><i>15</i><i>10</i><i>9</i></div>
<div class="r" style="top:577px"><i>19</i><i>20</i><i>19</i><i>19</i><i>19</i><i>19</i><i>19</i><i>19</i><i>19</i><i>19</i><i>19</i><i>19</i><i>19</i><i>19</i><i>19</i><i>19</i><i>17</i><i>19</i><i>19</i><i>19</i><i>19</i><i>19</i><i>19</i><i>19</i><i>19</i><i>19</i><i>19</i><i>19</i><i>20</i><i>20</i><i>20</i><i>20</i><i>17</i><i>21</i><i>22</i><i>22</i><i>22</i><i>17</i><i>17</i></div>
<div class="r" style="top:597px"><i>20</i><i>20</i><i>20</i><i>20</i><i>20</i><i>19</i><i>19</i><i>19</i><i>19</i><i>19</i><i>19</i><i>20</i><i>20</i><i>19</i><i>19</i><i>19</i><i>19</i><i>19</i><i>19</i><i>19</i><i>19</i><i>19</i><i>19</i><i>19</i><i>19</i><i>19</i><i>19</i><i>19</i><i>20</i><i>20</i><i>20</i><i>20</i><i>20</i><i>22</i><i>22</i><i>22</i><i>22</i><i>22</i><i>23</i></div>
<div class="r" style="top:617px"><i>20</i><i>20</i><i>20</i><i>20</i><i>20</i><i>20</i><i>19</i><i>19</i><i>20</i><i>20</i><i>20</i><i>20</i><i>20</i><i>20</i><i>20</i><i>19</i><i>20</i><i>19</i><i>19</i><i>19</i><i>19</i><i>19</i><i>19</i><i>19</i><i>19</i><i>19</i><i>19</i><i>20</i><i>20</i><i>20</i><i>20</i><i>21</i><i>21</i><i>21</i><i>21</i><i>22</i><i>22</i><i>22</i><i>22</i></div>
<div class="r" style="top:637px"><i>20</i><i>20</i><i>20</i><i>20</i><i>20</i><i>20</i><i>20</i><i>20</i><i>20</i><i>20</i><i>20</i><i>20</i><i>20</i><i>20</i><i>20</i><i>20</i><i>20</i><i>19</i><i>17</i><i>15</i><i>17</i><i>18</i><i>18</i><i>19</i><i>19</i><i>19</i><i>19</i><i>20</i><i>20</i><i>20</i><i>20</i><i>21</i><i>21</i><i>21</i><i>21</i><i>21</i><i>22</i><i>22</i><i>22</i></div>
<div class="r" style="top:657px"><i>20</i><i>20</i><i>20</i><i>20</i><i>20</i><i>20</i><i>20</i><i>20</i><i>20</i><i>20</i><i>20</i><i>20</i><i>20</i><i>20</i><i>20</i><i>20</i><i>20</i><i>19</i><i>18</i><i>16</i><i>16</i><i>15</i><i>14</i><i>15</i><i>15</i><i>17</i><i>18</i><i>19</i><i>20</i><i>20</i><i>20</i><i>21</i><i>21</i><i>21</i><i>21</i><i>21</i><i>22</i><i>22</i><i>22</i></div>
<div class="r" style="top:677px"><i>20</i><i>20</i><i>20</i><i>20</i><i>20</i><i>20</i><i>20</i><i>20</i><i>20</i><i>20</i><i>20</i><i>20</i><i>20</i><i>20</i><i>20</i><i>20</i><i>20</i><i>20</i><i>20</i><i>20</i><i>20</i><i>19</i><i>18</i><i>17</i><i>18</i><i>19</i><i>19</i><i>20</i><i>20</i><i>20</i><i>20</i><i>20</i><i>21</i><i>21</i><i>21</i><i>21</i><i>21</i><i>21</i><i>22</i></div>
<div class="r" style="top:697px"><i>21</i><i>21</i><i>20</i><i>20</i><i>20</i><i>20</i><i>20</i><i>20</i><i>20</i><i>20</i><i>20</i><i>20</i><i>20</i><i>20</i><i>20</i><i>20</i><i>20</i><i>20</i><i>21</i><i>20</i><i>20</i><i>20</i><i>20</i><i>21</i><i>20</i><i>21</i><i>21</i><i>21</i><i>21</i><i>20</i><i>20</i><i>20</i><i>20</i><i>21</i><i>21</i><i>21</i><i>21</i><i>21</i><i>21</i></div>
<div class="r" style="top:717px"><i>21</i><i>21</i><i>21</i><i>20</i><i>20</i><i>20</i><i>20</i><i>20</i><i>20</i><i>20</i><i>20</i><i>20</i><i>20</i><i>20</i><i>20</i><i>20</i><i>20</i><i>20</i><i>20</i><i>20</i><i>20</i><i>20</i><i>20</i><i>20</i><i>21</i><i>21</i><i>21</i><i>21</i><i>21</i><i>21</i><i>20</i><i>20</i><i>21</i><i>21</i><i>21</i><i>21</i><i>21</i><i>21</i><i>21</i></div>
<div class="r" style="top:737px"><i>21</i><i>21</i><i>21</i><i>21</i><i>21</i><i>20</i><i>20</i><i>20</i><i>20</i><i>20</i><i>20</i><i>20</i><i>20</i><i>20</i><i>20</i><i>20</i><i>20</i><i>20</i><i>20</i><i>20</i><i>20</i><i>20</i><i>20</i><i>20</i><i>21</i><i>21</i><i>21</i><i>21</i><i>21</i><i>21</i><i>20</i><i>20</i><i>21</i><i>21</i><i>21</i><i>21</i><i>21</i><i>21</i><i>21</i></div>
<div class="r" style="top:757px"><i>21</i><i>21</i><i>21</i><i>21</i><i>21</i><i>21</i><i>20</i><i>20</i><i>20</i><i>20</i><i>20</i><i>20</i><i>20</i><i>20</i><i>20</i><i>20</i><i>20</i><i>20</i><i>20</i><i>20</i><i>20</i><i>20</i><i>20</i><i>20</i><i>20</i><i>21</i><i>21</i><i>21</i><i>21</i><i>21</i><i>21</i><i>21</i><i>21</i><i>21</i><i>21</i><i>21</i><i>21</i><i>21</i><i>21</i></div>
</div>
<svg id="coast" width="768" height="768" viewBox="0 0 768 768"><path d="M0.0,40.0 7.5,46.2 16.2,53.8 25.0,61.2 33.8,65.5 43.8,67.0 45.0,71.2 40.0,72.5 48.8,78.8 56.2,83.8 63.8,91.2 70.0,100.0 73.8,108.8 85.0,115.0 93.8,117.5 100.0,121.2 101.2,135.0 102.5,138.8 93.8,141.2 91.2,145.0 90.0,155.0 93.8,161.2 92.5,175.0 93.8,191.2"/><path d="M0.0,43.0 10.0,50.0 20.0,58.8 30.0,65.5 40.0,68.8"/><path d="M40.0,0.0 39.5,13.8 35.0,15.5 28.8,30.0 26.2,37.5 27.0,50.0 27.5,61.2"/><path d="M80.5,86.2 83.8,78.8 90.0,70.0 96.2,61.2 100.0,53.8 103.8,50.0 110.0,51.2 111.2,58.8 116.2,62.5 122.5,61.2 130.0,59.5 132.5,55.0 136.2,58.8 140.0,68.8 141.2,72.5 147.5,77.5 155.0,83.8 161.2,88.8 162.5,100.0 163.8,112.5 160.0,122.5 161.2,132.5 156.2,142.5 158.8,150.0 160.0,160.0 165.0,170.0 168.0,180.0 172.5,192.0"/><path d="M163.8,116.2 172.5,117.0 176.2,110.0 178.8,100.0 185.0,95.0 192.0,92.5"/><path d="M100.0,0.0 103.8,3.8 112.5,8.8 121.2,11.2 128.8,16.2 136.2,23.8 141.2,30.0 150.0,31.2 158.8,27.5 166.2,15.0 170.0,6.2 175.0,0.0"/><path d="M150.0,31.2 147.5,42.5 140.0,50.0 132.5,55.0"/><path d="M185.0,0.0 192.0,5.0"/><path d="M192.0,8.8 199.5,11.2 212.0,20.0 217.0,30.0 218.2,38.8 225.8,41.2 232.0,46.2 239.5,46.2 238.2,53.8 234.5,62.5 230.8,71.2 225.8,75.0 224.5,82.5 217.0,85.0 212.0,88.8 209.5,96.2 203.2,91.2 197.0,86.2 192.0,90.0"/><path d="M224.5,82.5 234.5,80.0 243.2,75.0 252.0,76.2 259.5,77.5 267.0,75.0 273.2,73.0 278.2,77.5"/><path d="M322.0,0.0 318.2,8.8 312.0,16.2 303.2,23.8 297.0,27.5 288.2,28.8 283.2,35.0 284.0,45.0 288.2,52.5 289.5,62.5 285.8,71.2 278.2,77.5 283.2,85.0 290.8,93.8 300.8,100.0 308.2,102.5 312.0,112.5 315.8,121.2 319.5,128.8 316.2,136.2 316.2,150.0 315.8,161.2"/><path d="M315.8,161.2 324.5,163.8 332.0,161.2 337.0,156.2 344.5,157.5 352.0,156.2 362.0,156.2 372.0,152.5 384.0,150.0"/><path d="M315.8,161.2 304.5,162.5 302.0,172.5 295.8,178.8 287.0,180.0 277.0,178.8 267.0,177.5 259.5,177.5 252.0,180.0 247.0,186.2 243.2,192.0"/><path d="M362.0,156.2 364.5,165.0 367.0,172.5 374.5,180.0 384.0,185.0"/><path d="M384.0,150.0 389.0,145.0 396.5,143.8 402.8,141.2 406.5,146.2 416.5,142.5 420.2,151.2 426.5,155.0 434.0,158.8 440.2,156.2 450.2,160.0 459.0,165.0 464.0,170.0 472.8,167.5 482.8,163.8 491.5,165.0 501.5,162.5 509.0,162.5 516.5,160.0 521.5,155.0 522.8,145.0 519.0,138.8 515.2,132.5 517.8,128.8 524.0,127.5 530.2,126.2 534.0,123.8 539.0,120.0 546.5,117.5 547.8,110.0 554.0,107.5 564.0,105.0 570.2,102.5 576.0,100.0"/><path d="M531.5,126.2 536.5,130.0 544.0,135.0 550.2,138.8 551.5,150.0 550.2,160.0 544.0,162.5 536.5,167.5 534.0,175.0 534.0,185.0 532.8,192.0"/><path d="M384.0,185.0 387.8,192.0"/><path d="M450.2,192.0 454.0,188.8 459.0,190.0"/><path d="M576.0,100.0 582.2,97.5 591.0,96.2 597.2,100.0 603.5,106.2 611.0,111.2 617.2,108.8 626.0,107.5 628.5,105.0 639.8,106.2"/><path d="M634.8,0.0 636.0,5.0 633.5,26.2 633.5,42.5 623.5,43.8 622.2,50.0 616.0,53.8 613.5,58.8 606.0,62.5 604.8,66.2 611.0,65.0 616.0,66.2 619.8,67.5 621.0,72.5 624.8,77.5 628.5,83.8 632.2,90.0 637.2,96.2 640.5,102.5 641.5,107.5 638.5,113.8 638.0,120.0 642.2,127.5 646.0,135.0 651.0,141.2 658.5,147.5 668.5,152.5 681.0,158.8 693.5,163.8 703.5,167.5 711.0,170.0 721.0,170.0 736.0,172.5 751.0,175.0 768.0,177.5"/><path d="M711.0,170.0 708.5,177.5 706.0,185.0 707.2,192.0"/><path d="M608.5,192.0 613.5,186.2 626.0,183.8 638.5,185.0 642.2,180.0 651.0,177.5 663.5,180.0 672.2,183.8 674.8,182.5 676.0,186.2 677.2,192.0"/><path d="M0.0,220.8 5.0,225.8 12.5,233.2 20.0,242.0 26.2,252.0 31.2,262.0 32.5,265.8 28.8,272.0 26.2,280.8 23.8,290.8 17.5,288.2 10.0,283.2 3.8,278.2 0.0,274.5"/><path d="M95.0,192.0 96.2,195.8 91.2,200.8 87.5,204.5 86.2,210.8 83.8,217.0 80.0,219.5 86.2,223.2 88.8,227.0 87.5,232.0 91.2,234.5 83.8,237.0 85.0,243.2 90.0,245.8 93.8,239.5 93.0,245.8 88.8,248.2 93.8,253.2 100.0,258.2 107.5,262.0 113.8,267.0 120.0,270.8 123.8,277.0 122.5,282.0 127.5,285.8 126.2,292.0 127.5,298.2 132.5,300.8 137.5,303.2 138.8,309.5 143.8,314.5 142.5,318.2 150.0,324.5 155.0,332.0 158.8,334.5 160.0,339.5 166.2,344.5 172.5,350.8 175.0,354.5 180.0,348.2 186.2,352.0 192.0,350.8"/><path d="M175.0,354.5 176.2,362.0 172.5,367.0 175.0,372.0 167.5,372.0 165.0,378.2 162.5,384.0"/><path d="M180.0,367.0 185.0,364.5 192.0,362.0"/><path d="M105.0,293.2 111.2,290.8 118.8,290.0 123.8,292.0 122.5,297.0 117.5,298.2 113.8,299.5 116.2,305.8 120.0,312.0 123.8,317.0 130.0,320.8 135.0,323.2 134.5,327.0 128.8,324.5 123.8,322.0 118.8,317.0 113.8,310.8 110.0,305.8 107.5,300.8 105.0,297.0z"/><path d="M136.2,337.0 140.0,339.5 141.2,342.0 137.5,341.5z"/><path d="M127.5,297.0 132.5,302.0 137.5,299.5 142.5,292.0 146.2,287.0 145.0,279.5 150.0,272.0 160.0,267.0 166.2,264.5 170.0,259.5 172.5,252.0 177.5,248.2 180.0,242.0 185.0,234.5 192.0,229.5"/><path d="M172.5,192.0 175.0,197.0 182.5,197.0 187.5,203.2 192.0,205.8"/><path d="M180.0,248.2 183.8,254.5 186.2,264.5 190.0,272.0 192.0,274.5"/><path d="M192.0,203.2 199.5,202.0 207.0,203.2 214.5,199.5 224.5,197.0 234.5,198.2 242.0,195.8 243.2,192.0"/><path d="M240.8,199.5 238.2,207.0 242.0,214.5 245.8,220.8 248.2,229.5 253.2,235.8 260.8,240.8 264.5,248.2 265.8,254.5 262.0,260.8 258.2,267.0 253.2,273.2 248.2,279.5 247.0,287.0 234.5,287.5 222.0,286.5 212.0,289.5 204.5,290.8 197.0,288.2 194.5,277.0 192.0,272.0"/><path d="M264.5,264.5 272.0,263.2 277.0,262.0 279.5,269.5 285.8,275.8 292.0,279.5 299.5,279.5"/><path d="M309.5,219.5 314.5,220.8 317.0,225.8 312.0,230.8 307.0,229.5 302.0,232.0 295.8,234.5 293.2,235.8 297.0,242.0 295.8,252.0 292.0,259.5 292.0,267.0 295.8,273.2 300.8,279.5 303.2,285.8 308.2,290.8 312.0,299.5 317.0,307.0 322.0,314.5 328.2,320.8 333.2,327.0 337.0,333.2 342.0,339.5 344.5,343.2"/><path d="M192.0,272.0 195.8,282.0 204.5,289.5 203.2,299.5 200.8,309.5 204.5,322.0 212.0,332.0 215.8,339.5 214.5,347.0 217.0,354.5 223.2,364.5 229.5,372.0 232.0,378.2 229.5,384.0"/><path d="M192.0,345.8 202.0,343.2 212.0,337.0"/><path d="M215.8,342.0 224.5,337.0 232.0,339.5 239.5,344.5 247.0,349.5 253.2,353.2 260.8,349.5 264.5,342.0 272.0,337.0 279.5,339.5 285.8,345.8 289.5,352.0 299.5,355.8 309.5,357.0 317.0,358.2"/><path d="M192.0,214.5 194.0,219.5 192.0,225.8"/><path d="M192.0,354.5 198.2,352.0 200.8,358.2 197.0,365.8 192.0,364.5"/><path d="M411.5,195.8 419.0,194.5 421.5,202.0 429.0,203.2 437.8,199.5 445.2,195.8 449.0,192.0"/><path d="M456.5,192.0 461.5,194.5 469.0,198.2 479.0,200.8 489.0,202.0 501.5,203.2 511.5,204.5 514.0,203.2"/><path d="M476.5,234.5 482.8,230.8 490.2,232.0 492.8,237.0 489.0,240.8 482.8,240.0z"/><path d="M490.2,262.0 495.2,257.0 502.8,254.5 509.0,255.8 511.5,260.8 506.5,264.5 497.8,265.8z"/><path d="M450.2,275.8 456.5,273.2 461.5,275.8 466.5,277.0 471.5,273.2 476.5,270.8 475.2,277.0 470.2,282.0 471.5,290.8 466.5,288.2 462.8,284.5 459.0,289.5 455.2,287.0 451.5,285.8 450.2,280.8z"/><path d="M446.5,312.0 450.2,310.8 450.2,315.8 447.0,318.2z"/><path d="M510.2,287.0 515.2,286.5 517.8,289.5 514.0,291.5z"/><path d="M514.0,203.2 516.5,212.0 516.0,222.0 524.0,223.2 534.0,222.0 546.5,220.8 559.0,219.5 562.8,222.0 559.0,227.0 551.5,230.8 544.0,235.8 536.5,242.0 529.0,248.2 526.5,255.8 525.2,259.5 521.5,262.0 522.8,267.0 529.0,264.5 534.0,260.8 539.0,254.5 546.5,248.2 554.0,242.0 561.5,235.8 569.0,230.8 576.0,228.2"/><path d="M576.0,232.0 569.0,235.8 559.0,243.2 549.0,250.8 541.5,257.0 534.0,262.0 529.0,264.5 524.0,269.5 521.0,274.5 520.2,287.0 521.5,297.0 520.2,304.5 516.5,314.5 517.8,318.2 526.5,317.0 536.5,315.8 546.5,314.5 559.0,312.0 569.0,309.5 571.5,314.5 567.8,322.0 559.0,328.2 551.5,333.2 556.5,335.8 561.5,342.0 564.0,352.0 562.8,362.0 569.0,364.5 570.2,372.0"/><path d="M501.5,337.0 506.5,333.2 516.5,330.8 524.0,327.0 531.5,325.8 536.5,329.5 540.2,337.0 544.0,342.0 549.0,348.2 550.2,355.8 545.2,358.2 536.5,355.8 529.0,353.2 520.2,350.8 511.5,348.2 505.2,344.5z"/><path d="M519.0,347.0 522.8,342.0 527.8,339.5 530.2,343.2 525.2,347.0z"/><path d="M539.0,348.2 544.0,347.0 546.5,353.2 542.8,352.0z"/><path d="M411.5,362.0 415.2,358.2 419.0,360.8 420.2,367.0 425.2,370.8 426.5,375.8 421.5,374.5 416.5,370.8 412.8,367.0z"/><path d="M386.5,328.2 389.0,327.0 389.5,330.8 387.0,331.5z"/><path d="M576.0,225.8 583.5,220.8 591.0,213.2 598.5,205.8 603.5,198.2 607.2,192.0"/><path d="M706.0,192.0 712.2,195.8 719.8,200.8 726.0,208.2 736.0,209.5 748.5,208.2 761.0,209.5 764.8,212.0 761.0,214.5 751.0,213.2 741.0,215.8 731.0,215.8 721.0,218.2 711.0,220.8 701.0,224.5 691.0,228.2 693.5,232.0 703.5,234.5 712.2,237.0 711.0,242.0 701.0,243.2 688.5,240.8 676.0,239.5 663.5,239.5 651.0,240.8 638.5,242.0 629.8,243.2 623.5,244.5 613.5,245.8 606.0,244.5 599.8,242.0 594.8,235.8 588.5,235.8 581.0,238.2 576.0,240.8"/><path d="M619.8,232.0 626.0,229.5 634.8,230.0 641.0,233.2 641.0,238.2 636.0,240.8 629.8,242.0 624.8,239.5 621.0,235.8z"/><path d="M609.8,220.8 616.0,219.0 622.2,220.8 618.5,224.5 612.2,224.5z"/><path d="M613.5,232.0 616.0,233.2 613.5,235.0z"/><path d="M159.8,340.0 163.5,345.0 171.0,350.0 176.0,357.5 178.5,351.2 182.2,348.8 187.2,352.5 194.8,351.2 198.5,355.0 203.5,360.0 202.2,366.2 197.2,363.8 192.2,360.0 186.0,361.2 181.0,362.5 177.2,365.0 176.0,371.2 181.0,375.0 184.8,372.5 186.0,377.5 182.2,381.2 183.5,388.8 187.2,391.2 189.8,385.0 193.5,390.0 196.0,397.5 198.5,405.0 202.2,412.5 207.2,411.2 211.0,407.5 212.2,401.2 214.8,405.0 218.5,410.0 223.5,412.5 231.0,413.8 237.2,412.5 246.0,408.8 256.0,407.5 266.0,406.2 276.0,407.5 288.0,405.0"/><path d="M216.0,422.5 226.0,423.8 233.5,425.0 238.5,420.0 243.5,415.0 251.0,412.5 261.0,415.0 271.0,420.0 279.8,425.0 288.0,427.5"/><path d="M164.8,382.5 168.5,372.5 173.5,370.0 176.0,377.5 174.8,385.0 171.0,391.2 166.0,392.5 162.2,390.0z"/><path d="M149.8,425.0 152.2,415.0 157.2,410.0 162.2,407.5 164.8,402.5 168.5,398.8 171.0,402.5 169.8,408.8 173.5,412.5 176.0,420.0 178.5,427.5 177.2,432.5 171.0,431.2 166.0,428.8 162.2,425.0 158.5,422.5 156.0,426.2 153.0,427.5z"/><path d="M167.2,447.5 172.2,445.0 178.5,450.0 184.8,456.2 189.8,461.2 183.5,463.8 178.5,466.2 173.5,461.2 169.8,455.0z"/><path d="M216.0,422.5 211.0,427.5 207.2,433.8 202.2,440.0 198.5,446.2 199.8,452.5 206.0,457.5 211.0,462.5 212.2,467.5 218.5,470.0 223.5,475.0 228.5,481.2 232.2,487.5"/><path d="M214.8,340.0 216.0,352.5 223.5,360.0 227.2,367.5 228.5,375.0 236.0,381.2 243.5,382.5 251.0,377.5 254.8,378.8 254.8,392.5 251.0,400.0 246.0,406.2"/><path d="M234.8,495.0 241.0,490.0 246.0,487.5 251.0,482.5 246.0,475.0 242.2,465.0 243.5,455.0 248.5,451.2 258.5,456.2 268.5,453.8 273.5,445.0 276.0,437.5 279.8,427.5"/><path d="M251.0,532.0 252.2,520.0 258.5,517.5 266.0,518.8 271.0,525.0 273.5,532.0"/><path d="M236.0,340.0 241.0,345.0 248.5,347.5 252.2,353.8 261.0,350.0 266.0,343.8 268.5,340.0"/><path d="M290.5,367.5 298.0,363.8 308.0,360.0 318.0,356.2 328.0,355.0 338.0,356.2 345.5,363.8 353.0,371.2 363.0,376.2 373.0,378.8 383.0,381.2 390.5,385.0 395.5,392.5 398.0,400.0 395.5,405.0 399.2,412.5 404.2,421.2 410.5,426.2 420.5,426.2 421.8,432.5 418.0,438.8 410.5,440.0 405.5,436.2 400.5,430.0 398.0,423.8 393.0,417.5 388.0,411.2 385.5,406.2 376.8,406.2 368.0,407.5 361.8,405.0 356.8,398.8 350.5,393.8 344.2,393.8 339.2,388.8 338.0,382.5 330.5,380.0 323.0,373.8 315.5,370.0 308.0,371.2 300.5,372.5 293.0,371.2z"/><path d="M318.0,365.0 325.5,372.5 333.0,382.5 340.5,390.0 341.8,397.5 350.5,400.0 356.8,405.0 363.0,411.2 373.0,413.8 383.0,415.0 386.8,411.2 390.5,417.5 394.2,425.0 391.8,430.0 386.8,427.5 383.0,432.5 385.5,442.5 388.0,452.5 389.2,461.2 385.5,466.2 379.2,462.5 374.2,456.2 370.5,450.0 365.5,445.0 360.5,441.2 355.5,438.8 351.8,436.2 346.8,438.8 340.5,440.0 333.0,442.5 325.5,443.8 320.5,448.8 323.0,455.0 328.0,460.0 331.8,467.5 330.5,476.2 338.0,478.8 348.0,476.2 353.5,477.5 349.2,483.8 340.5,487.5 333.0,491.2 328.0,495.0 325.5,490.0 320.5,485.0 315.5,480.0 311.8,476.2 306.8,472.5 303.0,476.2"/><path d="M288.0,407.5 294.2,412.5 296.8,407.5 301.8,413.8 310.5,419.5 319.2,421.2 328.0,423.8 335.5,425.0"/><path d="M288.0,428.8 299.2,430.0 306.8,435.0 311.8,441.2 316.8,438.8 315.5,433.8 323.0,431.2 330.5,428.8 335.5,425.0"/><path d="M335.5,425.0 339.2,420.0 344.2,418.8 349.2,427.5 355.5,428.8 360.5,422.5 363.0,415.0"/><path d="M288.0,355.0 298.0,358.8 310.5,363.8 318.0,355.0 313.0,347.5 308.0,340.0"/><path d="M411.8,362.5 415.5,358.8 419.2,361.2 420.5,367.5 425.5,371.2 426.8,375.0 421.8,375.0 416.8,371.2 413.0,367.5z"/><path d="M429.2,441.2 434.2,438.8 438.0,443.8 443.0,450.0 446.8,456.2 444.2,460.0 439.2,456.2 434.2,450.0 430.5,445.0z"/><path d="M448.0,465.0 453.0,466.2 460.5,468.8 464.2,472.5 461.8,476.2 455.5,473.8 450.5,470.0z"/><path d="M401.8,467.5 406.8,463.8 409.2,467.5 406.8,473.8 402.5,476.2z"/><path d="M426.8,468.8 430.5,468.0 431.0,471.2 427.5,472.0z"/><path d="M409.2,481.2 413.0,483.8 413.0,490.0 410.0,493.8 407.5,488.8z"/><path d="M440.5,480.0 444.2,478.8 445.5,485.0 442.5,488.8 439.2,486.2z"/><path d="M468.0,480.0 474.2,478.8 476.8,482.5 473.0,485.0 468.5,484.5z"/><path d="M346.8,440.0 351.8,437.5 356.8,440.0 355.5,446.2 349.2,447.5z"/><path d="M346.8,458.8 355.5,456.2 351.8,463.8 348.0,464.5z"/><path d="M340.5,470.0 345.5,468.8 344.2,473.8z"/><path d="M344.2,492.5 353.0,489.5 356.8,490.0 349.2,494.5z"/><path d="M326.8,497.5 330.0,497.0 329.2,500.5z"/><path d="M232.0,480.0 235.8,487.5 230.8,495.0 228.2,505.0 229.5,515.0 233.2,521.2 237.0,526.2 235.8,533.8 238.2,540.0 243.2,542.5 248.2,541.2 253.2,536.2 252.0,528.8 250.8,521.2 255.8,517.5 263.2,517.5 268.2,521.2 273.2,527.5 277.0,535.0 280.8,542.5 279.5,552.5 278.2,560.0 283.2,563.8 287.0,567.5 288.2,560.0 285.8,552.5 288.2,546.2 292.0,540.0 297.0,535.5 303.2,535.0 307.0,538.8 308.2,543.8 312.0,547.5 317.0,552.5 322.0,557.5 328.2,563.8 333.2,563.8 328.2,557.5 324.5,552.5 322.0,545.0 323.2,538.8 322.0,530.0 320.8,522.5 318.2,515.0 314.5,507.5 312.0,500.0 307.0,492.5 303.2,485.0 302.0,480.0"/><path d="M314.5,571.2 318.2,568.8 322.0,573.8 325.8,578.8 323.2,585.0 319.5,588.0 315.8,583.8 314.0,577.5z"/><path d="M337.0,607.0 340.8,609.5 341.5,612.0 338.2,610.5z"/><path d="M407.8,482.5 412.8,480.0 414.0,487.5 410.2,492.5 407.0,490.0z"/><path d="M411.5,503.8 416.5,502.5 418.5,507.5 415.2,510.5 411.0,508.8z"/><path d="M404.0,541.2 407.8,538.8 414.0,537.5 417.8,533.8 421.5,532.5 422.8,537.5 425.2,540.0 419.0,541.2 415.2,543.8 409.0,545.5 405.2,547.0z"/><path d="M440.2,482.5 445.2,481.2 444.0,488.8 440.2,490.0z"/><path d="M425.2,516.2 429.0,515.0 432.8,522.5 429.0,527.0 426.0,522.5z"/><path d="M470.2,512.5 475.2,507.5 481.5,503.8 485.2,506.2 486.0,513.8 484.0,520.0 480.2,525.0 475.2,523.8 472.0,518.8z"/><path d="M450.2,518.8 456.5,511.2 461.5,508.0 466.0,508.8 465.2,515.0 461.5,519.5 456.5,520.0 452.8,522.0z"/><path d="M464.0,538.8 467.8,536.2 471.5,540.0 472.8,545.0 469.0,547.0 465.2,543.8z"/><path d="M452.8,546.2 457.8,542.0 459.5,543.8 455.2,548.0z"/><path d="M437.8,547.0 442.8,548.8 445.2,552.0 441.0,550.5z"/><path d="M495.2,536.2 501.5,532.5 507.8,528.8 512.8,525.0 516.0,527.0 510.2,531.2 504.0,535.0 499.0,538.0z"/><path d="M497.8,509.5 501.5,508.8 501.0,512.0z"/><path d="M486.5,527.0 491.0,526.2 491.0,529.0z"/><path d="M474.5,531.2 478.5,530.0 477.0,534.5z"/><path d="M472.8,561.2 477.0,562.5 479.5,567.5 477.8,572.0 472.8,571.2 475.2,567.5z"/><path d="M494.5,568.8 499.5,567.5 502.0,570.5 496.5,571.2z"/><path d="M529.0,553.8 532.8,550.0 536.5,551.2 540.2,548.8 541.5,552.5 537.0,554.5 534.0,557.5 530.2,558.0z"/><path d="M546.5,490.0 550.2,489.5 549.0,497.5z"/><path d="M576.0,435.2 586.0,437.8 592.2,442.8 591.0,451.5 587.2,459.0 581.0,460.2 587.2,466.5 588.5,474.0 589.8,484.0 591.0,490.2 599.8,487.8 602.2,494.0 607.2,497.8 612.2,496.5 614.8,501.5 608.5,505.2 601.0,507.8 594.8,509.0 591.0,514.0 594.8,520.2 603.5,520.2 613.5,519.0 623.5,518.5 633.5,519.0 643.5,517.8 653.5,516.5 661.0,515.2 656.0,520.2 648.5,524.0 642.2,524.0 641.0,531.5 644.8,534.0 648.5,539.0 643.5,544.0 639.8,550.2 638.5,555.2 643.5,551.5 648.5,546.5 653.5,541.5 657.2,536.5 656.0,532.8 662.2,534.0 667.2,530.2 669.8,534.0 676.0,534.0 678.5,540.2 686.0,544.0 692.2,549.0 696.0,546.5 699.8,540.2 704.8,544.0 711.0,547.8 712.2,556.5 708.5,564.0 714.8,569.0 719.8,576.0"/><path d="M581.0,460.2 576.0,459.0"/><path d="M598.5,544.0 604.8,540.2 613.5,536.5 623.5,535.2 633.5,534.0 641.0,535.2 639.8,540.2 632.2,542.8 623.5,544.0 613.5,544.0 606.0,546.5 601.0,545.2z"/><path d="M576.0,536.5 581.0,531.5 588.5,528.5 597.2,529.0 593.5,532.8 586.0,536.5 579.8,539.0z"/><path d="M583.5,551.5 587.2,550.2 588.5,554.0 584.8,555.2z"/><path d="M596.0,562.8 601.0,560.2 603.5,565.2 599.8,569.0 596.0,566.5z"/><path d="M624.8,550.2 629.8,547.8 632.2,554.0 628.5,557.0z"/><path d="M576.0,401.5 582.2,400.2 584.8,402.8 578.5,405.2z"/><path d="M620.1,586.8 626.6,578.7 636.2,572.3 645.9,567.4 652.4,564.2 655.0,569.1 650.8,577.1 644.3,585.2 637.9,593.3 631.4,601.3 626.6,607.2 622.7,603.0 620.7,594.9z"/><path d="M586.2,612.7 589.4,613.6 588.5,624.0 590.4,633.6 589.4,643.3 586.2,645.9 583.9,636.9 582.0,628.8 583.9,620.7z"/><path d="M566.8,644.9 574.9,643.3 576.5,646.6 568.4,649.8z"/><path d="M696.0,540.0 700.8,546.5 707.3,549.7 708.9,559.4 713.7,569.1 721.8,573.9 729.9,578.7 736.3,580.4 742.8,585.2 749.3,587.8 757.3,583.6 768.0,581.3"/><path d="M529.7,554.5 536.1,549.7 540.0,552.3 534.5,557.8z"/><path d="M583.0,552.3 587.8,551.3 588.5,554.5z"/><path d="M594.3,562.6 600.7,561.0 604.0,567.4 597.5,568.4z"/><path d="M626.6,548.1 631.4,546.5 633.0,554.5 628.2,556.1z"/><path d="M607.2,579.7 615.3,579.7 615.3,582.0 607.2,582.0z"/><path d="M358.3,630.0 361.7,635.0 365.0,633.3 366.0,623.3 369.3,625.0 370.0,635.0 376.7,636.7 385.0,636.0 388.3,631.7 392.7,630.7 396.0,634.0 393.3,638.3 396.7,640.7 401.7,641.7 408.3,646.7 415.0,647.3 423.3,646.0 430.0,645.0 440.0,643.3 445.0,646.0 451.7,647.3 456.7,650.0 466.7,650.7 476.7,650.0 486.7,649.3 495.0,650.0 496.7,655.0 495.0,660.0 496.7,665.0 501.7,666.0 508.3,663.3 516.7,661.7 525.0,660.0 530.0,656.0 532.7,652.7 532.7,658.3 531.7,665.0 530.0,671.7 523.3,675.0 516.7,676.0 506.7,675.0 498.3,676.7 490.0,676.0 480.0,678.3 470.0,679.3 463.3,680.7 453.3,681.7 443.3,682.7 431.7,682.7 431.0,673.3 423.3,670.0 415.0,667.3 406.7,665.0 396.7,663.3 386.7,661.7 376.7,660.0 366.7,659.3 358.3,656.7 353.3,653.3 355.0,645.0 356.7,638.3z"/><path d="M386.7,688.3 391.7,687.3 392.7,691.7 388.3,692.0z"/><path d="M500.8,393.3 504.2,390.8 510.0,389.7 515.8,390.8 520.8,393.3 521.7,399.2 520.8,405.0 521.7,411.7 520.0,417.5 516.7,421.7 513.3,425.8 509.2,424.2 505.0,420.8 503.3,418.3 506.7,415.0 510.8,411.7 511.7,405.8 509.2,400.8 505.0,398.3 501.7,396.7z"/><path d="M482.5,389.7 485.8,389.2 487.0,392.5 485.0,394.7 483.0,393.0z"/><path d="M571.7,370.0 570.8,375.0 566.7,377.5 561.7,379.2 558.3,381.7 559.2,385.8 562.5,389.2 565.0,394.2 568.3,397.5 570.8,400.8 576.7,400.8 583.3,400.0 586.7,403.3 580.0,405.0 573.3,405.8 566.7,407.5 561.7,409.2 558.3,406.7 556.7,404.2 555.0,408.3 555.8,413.3 553.3,411.7 552.5,407.5 551.7,402.5 550.8,397.5 548.3,392.5 545.8,388.3 542.5,385.0 538.3,383.7 534.2,385.8 534.2,391.7 535.8,397.5 537.5,402.5 541.7,403.3 543.3,405.8 540.8,409.2 536.7,410.8 531.7,410.0 530.0,412.5 528.3,415.8 531.7,418.3 536.7,420.8 540.0,424.2 544.2,427.5 548.3,429.2 550.8,425.0 554.2,422.0 560.0,421.7 563.3,425.0 565.8,429.2 566.7,434.2 570.8,434.2 576.7,435.0"/><path d="M548.3,460.8 550.8,456.7 555.8,454.2 561.7,453.3 566.7,454.7 571.7,456.7 576.7,456.3 580.0,457.5 579.2,460.8 573.3,462.5 570.0,465.8 565.0,467.5 561.7,464.2 558.3,460.8 554.2,460.0 550.8,463.3z"/><path d="M509.2,477.5 514.2,470.0 521.7,467.5 528.3,465.8 535.0,464.2 530.0,469.2 525.0,473.3 518.3,475.8 513.3,477.0z"/><path d="M545.8,489.2 550.0,489.2 550.0,492.5 547.5,494.2z"/><path d="M300.0,229.2 307.3,227.1 309.4,220.8 314.6,219.8 317.7,224.0 316.7,228.1 312.5,229.2 309.4,232.3 311.5,238.5 316.7,242.7 322.9,245.8 331.2,250.0 338.5,253.1 341.7,256.2 340.6,260.4 341.7,266.7 343.8,272.9 344.8,276.0 349.0,277.5 354.2,278.8 360.4,280.2 366.7,280.2 364.6,278.1 358.3,275.0 352.1,270.8 347.9,264.6 345.8,259.4 346.9,254.2 350.0,251.0 355.2,252.1 360.4,255.2 362.5,259.4 366.7,262.5 369.8,266.7 371.9,271.9 375.0,275.0 380.2,277.5 383.3,276.0 385.0,270.8 383.3,265.6 380.2,261.5 377.1,257.3 374.0,253.1 369.8,250.0 366.7,246.9 365.6,244.8 369.8,242.7 375.0,242.7 381.2,241.7 385.4,244.8 391.7,249.0 397.9,254.2 402.1,259.4 405.2,262.5 408.3,260.4 407.3,256.2 403.1,251.0 397.9,246.9 392.7,242.7 387.5,240.6 384.4,237.5 382.3,239.6 377.1,235.4 372.9,232.3 371.9,229.2 376.0,227.1 377.1,224.0 372.9,221.9 368.8,219.8 365.0,216.7 364.6,212.5 367.7,209.4 372.9,208.3 379.2,206.2 387.5,209.4 395.8,207.3 403.1,205.2 408.3,202.1 410.4,200.0"/><path d="M417.7,215.6 419.8,209.4 425.0,206.7 431.2,209.4 433.8,215.6 432.3,221.9 427.1,225.4 421.9,222.9 418.8,219.8z"/><path d="M446.9,311.5 450.0,310.4 449.6,316.7 446.9,318.8z"/><path d="M344.8,341.7 351.0,339.6 352.1,343.8 346.9,345.8z"/><path d="M357.3,339.6 362.5,343.8 369.8,346.9 368.8,350.0 363.5,349.0 359.4,344.8z"/><path d="M374.0,344.8 380.2,334.4 382.3,335.4 377.1,344.8z"/><path d="M386.5,328.1 389.6,327.5 390.0,331.2 387.1,331.7z"/><path d="M308.3,335.4 312.5,330.2 318.8,328.1 322.9,331.2 329.2,333.3 332.3,338.5 331.2,343.8 327.1,347.9 321.9,350.0 319.8,354.2 315.6,355.2 312.5,351.0 313.5,345.8 310.4,341.7z"/><path d="M336.5,331.2 340.6,338.5 341.7,343.8 336.5,345.8 331.2,347.9"/></svg>
<svg id="legend" width="768" height="768" viewBox="0 0 768 768" shape-rendering="crispEdges"><rect x="40" y="720" width="20" height="20" fill="#001040" stroke="#000" stroke-width="1"/><rect x="60" y="720" width="20" height="20" fill="#003366" stroke="#000" stroke-width="1"/><rect x="80" y="720" width="20" height="20" fill="#003399" stroke="#000" stroke-width="1"/><rect x="100" y="720" width="20" height="20" fill="#0000cc" stroke="#000" stroke-width="1"/><rect x="120" y="720" width="20" height="20" fill="#0000ff" stroke="#000" stroke-width="1"/><rect x="140" y="720" width="20" height="20" fill="#0033ff" stroke="#000" stroke-width="1"/><rect x="160" y="720" width="20" height="20" fill="#0099ff" stroke="#000" stroke-width="1"/><rect x="180" y="720" width="20" height="20" fill="#33ccff" stroke="#000" stroke-width="1"/><rect x="200" y="720" width="20" height="20" fill="#66ffff" stroke="#000" stroke-width="1"/><rect x="220" y="720" width="20" height="20" fill="#66ff99" stroke="#000" stroke-width="1"/><rect x="240" y="720" width="20" height="20" fill="#66ff66" stroke="#000" stroke-width="1"/><rect x="260" y="720" width="20" height="20" fill="#66ff00" stroke="#000" stroke-width="1"/><rect x="280" y="720" width="20" height="20" fill="#c4f514" stroke="#000" stroke-width="1"/><rect x="300" y="720" width="20" height="20" fill="#ffff00" stroke="#000" stroke-width="1"/><rect x="320" y="720" width="20" height="20" fill="#ffff80" stroke="#000" stroke-width="1"/><rect x="340" y="720" width="20" height="20" fill="#ffe64d" stroke="#000" stroke-width="1"/><rect x="360" y="720" width="20" height="20" fill="#ffcc00" stroke="#000" stroke-width="1"/><rect x="380" y="720" width="20" height="20" fill="#ff9900" stroke="#000" stroke-width="1"/><rect x="400" y="720" width="20" height="20" fill="#ff6600" stroke="#000" stroke-width="1"/><rect x="420" y="720" width="20" height="20" fill="#ff4d33" stroke="#000" stroke-width="1"/><rect x="440" y="720" width="20" height="20" fill="#ff3300" stroke="#000" stroke-width="1"/><rect x="460" y="720" width="20" height="20" fill="#ff0000" stroke="#000" stroke-width="1"/><rect x="480" y="720" width="20" height="20" fill="#e60000" stroke="#000" stroke-width="1"/><rect x="500" y="720" width="20" height="20" fill="#b30000" stroke="#000" stroke-width="1"/><rect x="520" y="720" width="20" height="20" fill="#990000" stroke="#000" stroke-width="1"/><rect x="540" y="720" width="20" height="20" fill="#660000" stroke="#000" stroke-width="1"/><rect x="560" y="720" width="20" height="20" fill="#800040" stroke="#000" stroke-width="1"/><rect x="580" y="720" width="20" height="20" fill="#990073" stroke="#000" stroke-width="1"/><rect x="600" y="720" width="20" height="20" fill="#cc00cc" stroke="#000" stroke-width="1"/><rect x="620" y="720" width="20" height="20" fill="#ff00ff" stroke="#000" stroke-width="1"/><rect x="640" y="720" width="20" height="20" fill="#ff33ff" stroke="#000" stroke-width="1"/><rect x="660" y="720" width="20" height="20" fill="#ff80ff" stroke="#000" stroke-width="1"/><rect x="680" y="720" width="20" height="20" fill="#ffb3ff" stroke="#000" stroke-width="1"/><rect x="700" y="720" width="20" height="20" fill="#ffffff" stroke="#000" stroke-width="1"/></svg>
<span class="lg" style="left:55.25px;top:704.5px">-14</span><span class="lg" style="left:75.25px;top:746.5px">-12</span><span class="lg" style="left:95.25px;top:704.5px">-10</span><span class="lg" style="left:115.25px;top:746.5px">-8</span><span class="lg" style="left:135.25px;top:704.5px">-6</span><span class="lg" style="left:155.25px;top:746.5px">-4</span><span class="lg" style="left:175.25px;top:704.5px">-2</span><span class="lg" style="left:195.25px;top:746.5px">0</span><span class="lg" style="left:215.25px;top:704.5px">2</span><span class="lg" style="left:235.25px;top:746.5px">4</span><span class="lg" style="left:255.25px;top:704.5px">6</span><span class="lg" style="left:275.25px;top:746.5px">8</span><span class="lg" style="left:295.25px;top:704.5px">10</span><span class="lg" style="left:315.25px;top:746.5px">12</span><span class="lg" style="left:335.25px;top:704.5px">14</span><span class="lg" style="left:355.25px;top:746.5px">16</span><span class="lg" style="left:375.25px;top:704.5px">18</span><span class="lg" style="left:395.25px;top:746.5px">20</span><span class="lg" style="left:415.25px;top:704.5px">22</span><span class="lg" style="left:435.25px;top:746.5px">24</span><span class="lg" style="left:455.25px;top:704.5px">26</span><span class="lg" style="left:475.25px;top:746.5px">28</span><span class="lg" style="left:495.25px;top:704.5px">30</span><span class="lg" style="left:515.25px;top:746.5px">32</span><span class="lg" style="left:535.25px;top:704.5px">34</span><span class="lg" style="left:555.25px;top:746.5px">36</span><span class="lg" style="left:575.25px;top:704.5px">38</span><span class="lg" style="left:595.25px;top:746.5px">40</span><span class="lg" style="left:615.25px;top:704.5px">42</span><span class="lg" style="left:635.25px;top:746.5px">44</span><span class="lg" style="left:655.25px;top:704.5px">46</span><span class="lg" style="left:675.25px;top:746.5px">48</span><span class="lg" style="left:695.25px;top:704.5px">50</span><span class="lg" style="left:715.25px;top:746.5px">52</span>
<div class="t" style="left:10px;top:10.5px;font-size:19.55px;line-height:20px;">jeudi 6 novembre 2025</div>
<div class="t" style="left:11.3px;top:33px;font-size:23.5px;line-height:24px;">19:00 locale <span style="font-size:15.9px;position:relative;top:-3px;left:0px">(+48h)</span></div>
<div class="t" style="left:13.2px;top:70px;font-size:15.65px;line-height:18px;">Temp&eacute;ratures &agrave; 2m (&deg;C)</div>
<div id="run"><span>Run GFS 18Z du mardi 4 novembre 2025</span></div>
<div id="cp">Copyright 2025 Meteociel.fr</div>
</body></html>
